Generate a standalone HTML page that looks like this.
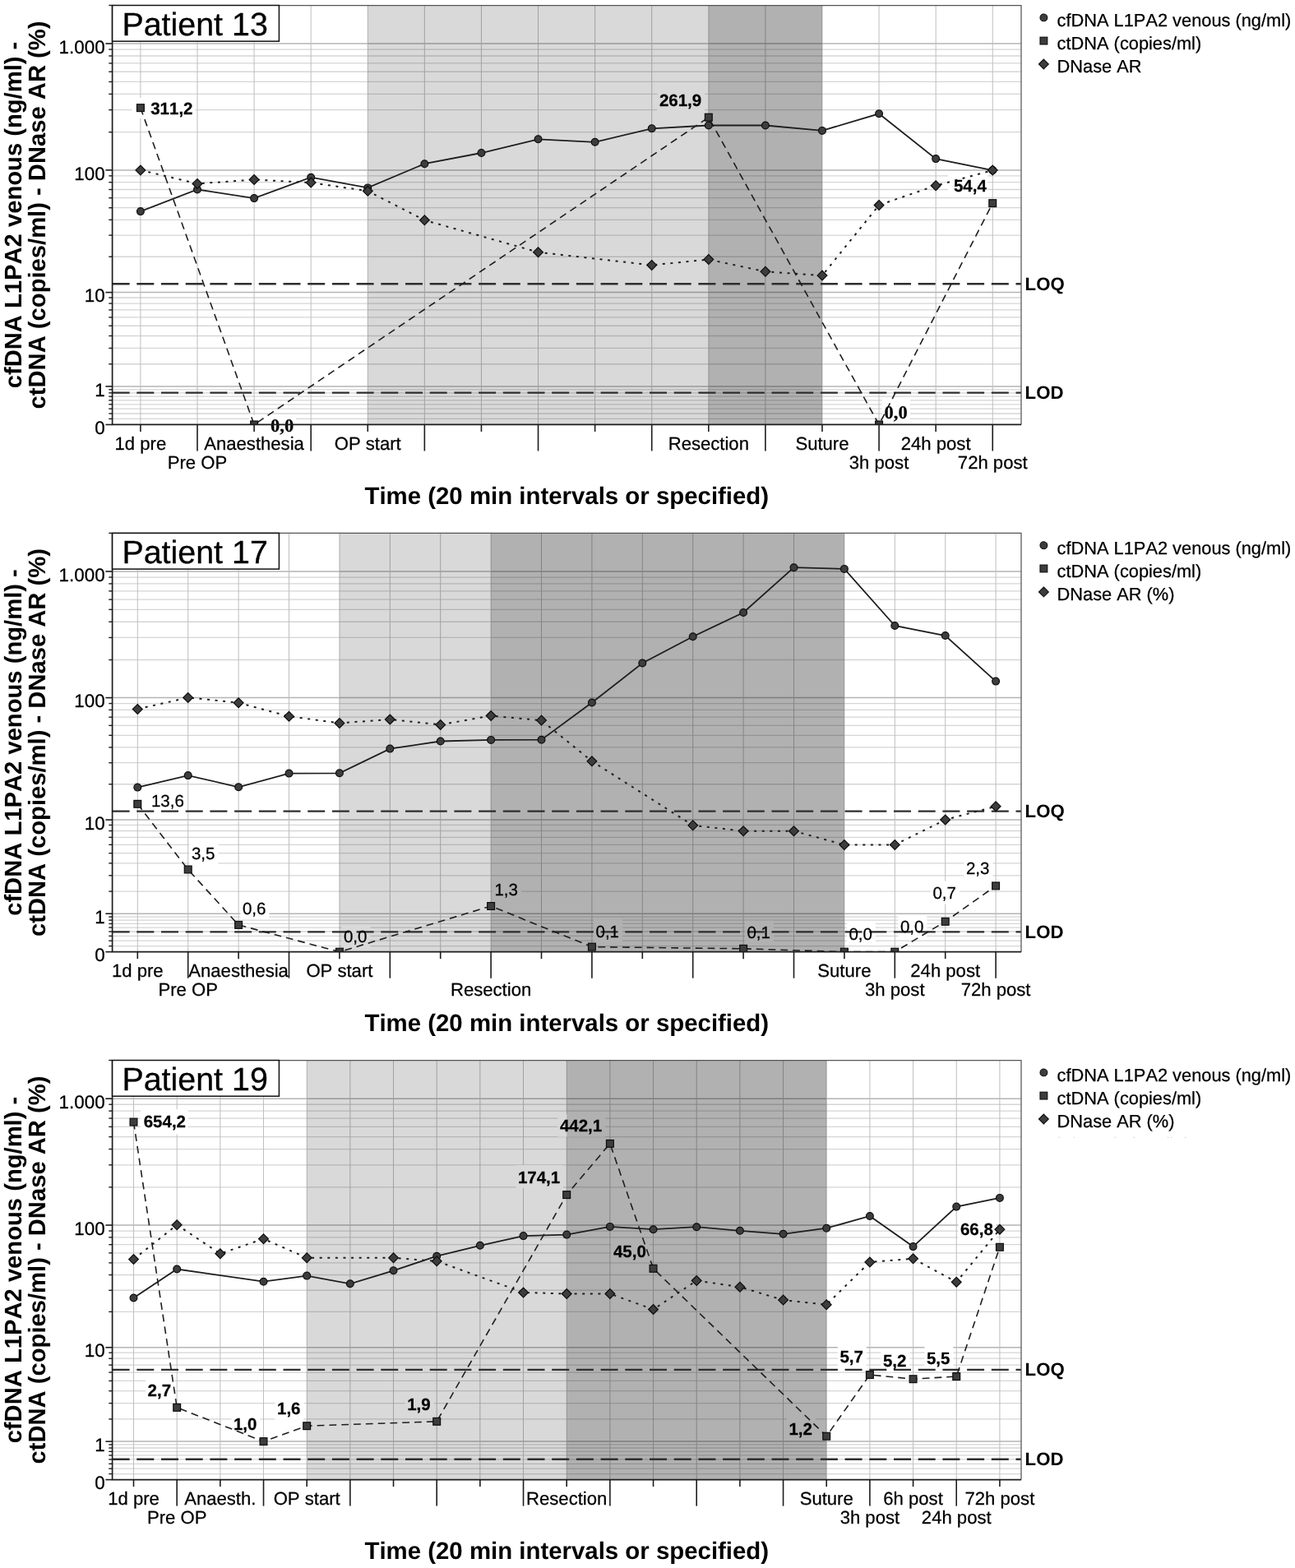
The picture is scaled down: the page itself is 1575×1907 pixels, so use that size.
<!DOCTYPE html>
<html lang="en">
<head>
<meta charset="utf-8">
<title>cfDNA, ctDNA and DNase activity over time - Patients 13, 17, 19</title>
<style>
html,body{margin:0;padding:0;background:#fff;}
body{width:1575px;height:1907px;overflow:hidden;}
svg{display:block;}
text{white-space:pre;font-kerning:none;font-variant-ligatures:none;}
</style>
</head>
<body>
<svg width="1575" height="1907" viewBox="0 0 1575 1907" shape-rendering="geometricPrecision" text-rendering="geometricPrecision">
<rect width="1575" height="1907" fill="#fff"/>
<g>
<line x1="136.6" x2="1242" y1="509.38" y2="509.38" stroke="#d5d5d5" stroke-width="1.3"/>
<line x1="136.6" x2="1242" y1="502.99" y2="502.99" stroke="#d5d5d5" stroke-width="1.3"/>
<line x1="136.6" x2="1242" y1="497.15" y2="497.15" stroke="#d5d5d5" stroke-width="1.3"/>
<line x1="136.6" x2="1242" y1="491.78" y2="491.78" stroke="#d5d5d5" stroke-width="1.3"/>
<line x1="136.6" x2="1242" y1="486.81" y2="486.81" stroke="#d5d5d5" stroke-width="1.3"/>
<line x1="136.6" x2="1242" y1="482.19" y2="482.19" stroke="#d5d5d5" stroke-width="1.3"/>
<line x1="136.6" x2="1242" y1="477.86" y2="477.86" stroke="#d5d5d5" stroke-width="1.3"/>
<line x1="136.6" x2="1242" y1="473.79" y2="473.79" stroke="#d5d5d5" stroke-width="1.3"/>
<line x1="136.6" x2="1242" y1="442.76" y2="442.76" stroke="#d5d5d5" stroke-width="1.3"/>
<line x1="136.6" x2="1242" y1="423.46" y2="423.46" stroke="#d5d5d5" stroke-width="1.3"/>
<line x1="136.6" x2="1242" y1="408.49" y2="408.49" stroke="#d5d5d5" stroke-width="1.3"/>
<line x1="136.6" x2="1242" y1="396.26" y2="396.26" stroke="#d5d5d5" stroke-width="1.3"/>
<line x1="136.6" x2="1242" y1="385.92" y2="385.92" stroke="#d5d5d5" stroke-width="1.3"/>
<line x1="136.6" x2="1242" y1="376.97" y2="376.97" stroke="#d5d5d5" stroke-width="1.3"/>
<line x1="136.6" x2="1242" y1="369.07" y2="369.07" stroke="#d5d5d5" stroke-width="1.3"/>
<line x1="136.6" x2="1242" y1="362" y2="362" stroke="#d5d5d5" stroke-width="1.3"/>
<line x1="136.6" x2="1242" y1="312.23" y2="312.23" stroke="#d5d5d5" stroke-width="1.3"/>
<line x1="136.6" x2="1242" y1="286.11" y2="286.11" stroke="#d5d5d5" stroke-width="1.3"/>
<line x1="136.6" x2="1242" y1="267.36" y2="267.36" stroke="#d5d5d5" stroke-width="1.3"/>
<line x1="136.6" x2="1242" y1="252.72" y2="252.72" stroke="#d5d5d5" stroke-width="1.3"/>
<line x1="136.6" x2="1242" y1="240.71" y2="240.71" stroke="#d5d5d5" stroke-width="1.3"/>
<line x1="136.6" x2="1242" y1="230.52" y2="230.52" stroke="#d5d5d5" stroke-width="1.3"/>
<line x1="136.6" x2="1242" y1="221.68" y2="221.68" stroke="#d5d5d5" stroke-width="1.3"/>
<line x1="136.6" x2="1242" y1="213.88" y2="213.88" stroke="#d5d5d5" stroke-width="1.3"/>
<line x1="136.6" x2="1242" y1="160.72" y2="160.72" stroke="#d5d5d5" stroke-width="1.3"/>
<line x1="136.6" x2="1242" y1="133.64" y2="133.64" stroke="#d5d5d5" stroke-width="1.3"/>
<line x1="136.6" x2="1242" y1="114.39" y2="114.39" stroke="#d5d5d5" stroke-width="1.3"/>
<line x1="136.6" x2="1242" y1="99.46" y2="99.46" stroke="#d5d5d5" stroke-width="1.3"/>
<line x1="136.6" x2="1242" y1="87.25" y2="87.25" stroke="#d5d5d5" stroke-width="1.3"/>
<line x1="136.6" x2="1242" y1="76.93" y2="76.93" stroke="#d5d5d5" stroke-width="1.3"/>
<line x1="136.6" x2="1242" y1="67.98" y2="67.98" stroke="#d5d5d5" stroke-width="1.3"/>
<line x1="136.6" x2="1242" y1="60.09" y2="60.09" stroke="#d5d5d5" stroke-width="1.3"/>
<line x1="136.6" x2="1242" y1="469.96" y2="469.96" stroke="#b4b4b4" stroke-width="1.5"/>
<line x1="136.6" x2="1242" y1="355.61" y2="355.61" stroke="#b4b4b4" stroke-width="1.5"/>
<line x1="136.6" x2="1242" y1="206.88" y2="206.88" stroke="#b4b4b4" stroke-width="1.5"/>
<line x1="136.6" x2="1242" y1="53.03" y2="53.03" stroke="#b4b4b4" stroke-width="1.5"/>
<line x1="170.9" x2="170.9" y1="6.5" y2="516.45" stroke="#bebebe" stroke-width="1"/>
<line x1="239.99" x2="239.99" y1="6.5" y2="516.45" stroke="#bebebe" stroke-width="1"/>
<line x1="309.08" x2="309.08" y1="6.5" y2="516.45" stroke="#bebebe" stroke-width="1"/>
<line x1="378.17" x2="378.17" y1="6.5" y2="516.45" stroke="#bebebe" stroke-width="1"/>
<line x1="447.26" x2="447.26" y1="6.5" y2="516.45" stroke="#bebebe" stroke-width="1"/>
<line x1="516.35" x2="516.35" y1="6.5" y2="516.45" stroke="#bebebe" stroke-width="1"/>
<line x1="585.44" x2="585.44" y1="6.5" y2="516.45" stroke="#bebebe" stroke-width="1"/>
<line x1="654.53" x2="654.53" y1="6.5" y2="516.45" stroke="#bebebe" stroke-width="1"/>
<line x1="723.62" x2="723.62" y1="6.5" y2="516.45" stroke="#bebebe" stroke-width="1"/>
<line x1="792.71" x2="792.71" y1="6.5" y2="516.45" stroke="#bebebe" stroke-width="1"/>
<line x1="861.8" x2="861.8" y1="6.5" y2="516.45" stroke="#bebebe" stroke-width="1"/>
<line x1="930.89" x2="930.89" y1="6.5" y2="516.45" stroke="#bebebe" stroke-width="1"/>
<line x1="999.98" x2="999.98" y1="6.5" y2="516.45" stroke="#bebebe" stroke-width="1"/>
<line x1="1069.07" x2="1069.07" y1="6.5" y2="516.45" stroke="#bebebe" stroke-width="1"/>
<line x1="1138.16" x2="1138.16" y1="6.5" y2="516.45" stroke="#bebebe" stroke-width="1"/>
<line x1="1207.25" x2="1207.25" y1="6.5" y2="516.45" stroke="#bebebe" stroke-width="1"/>
<rect x="160.5" y="119" width="77" height="25" fill="#fff"/>
<rect x="303" y="505" width="57" height="11" fill="#fff"/>
<rect x="799.4" y="107.1" width="57.8" height="28" fill="#fff"/>
<rect x="1072.5" y="485" width="34.5" height="31" fill="#fff"/>
<rect x="1153" y="210" width="48" height="30" fill="#fff"/>
<rect x="447.26" y="6.5" width="414.54" height="509.95" fill="#000" opacity="0.149"/>
<rect x="861.8" y="6.5" width="138.18" height="509.95" fill="#000" opacity="0.306"/>
<line x1="136.6" x2="1242" y1="345.2" y2="345.2" stroke="#2e2e2e" stroke-width="2.4" stroke-dasharray="21 8.7"/>
<text x="1246.6" y="352.5" font-family='"Liberation Sans", sans-serif' font-size="22.2" font-weight="bold" fill="#000">LOQ</text>
<line x1="136.6" x2="1242" y1="477.6" y2="477.6" stroke="#2e2e2e" stroke-width="2.4" stroke-dasharray="21 8.7"/>
<text x="1246.6" y="484.9" font-family='"Liberation Sans", sans-serif' font-size="22.2" font-weight="bold" fill="#000">LOD</text>
<clipPath id="clip6"><rect x="136.6" y="6.5" width="1105.4" height="509.95"/></clipPath>
<g clip-path="url(#clip6)">
<polyline points="170.9,131.18 309.08,516.45 861.8,142.71 1069.07,516.45 1207.25,247.16" fill="none" stroke="#1e1e1e" stroke-width="1.6" stroke-dasharray="8.8 6"/>
<polyline points="170.9,206.9 239.99,223.4 309.08,218.5 378.17,222.1 447.26,232.3 516.35,267.8 654.53,306.7 792.71,322.4 861.8,315.6 930.89,330.3 999.98,335.1 1069.07,249.5 1138.16,225.7 1207.25,207.1" fill="none" stroke="#1e1e1e" stroke-width="2" stroke-dasharray="3 6.6"/>
<polyline points="170.9,257.1 239.99,230.5 309.08,241.1 378.17,215.7 447.26,228.4 516.35,199.2 585.44,186 654.53,169.3 723.62,172.8 792.71,156.3 861.8,152.5 930.89,152.5 999.98,158.9 1069.07,138.3 1138.16,193.1 1207.25,207.1" fill="none" stroke="#1e1e1e" stroke-width="1.8"/>
<rect x="166.5" y="126.78" width="8.8" height="8.8" fill="#3d3d3d" stroke="#0c0c0c" stroke-width="1.2"/>
<rect x="304.68" y="512.05" width="8.8" height="8.8" fill="#3d3d3d" stroke="#0c0c0c" stroke-width="1.2"/>
<rect x="857.4" y="138.31" width="8.8" height="8.8" fill="#3d3d3d" stroke="#0c0c0c" stroke-width="1.2"/>
<rect x="1064.67" y="512.05" width="8.8" height="8.8" fill="#3d3d3d" stroke="#0c0c0c" stroke-width="1.2"/>
<rect x="1202.85" y="242.76" width="8.8" height="8.8" fill="#3d3d3d" stroke="#0c0c0c" stroke-width="1.2"/>
<circle cx="170.9" cy="257.1" r="4.4" fill="#3d3d3d" stroke="#0c0c0c" stroke-width="1.2"/>
<circle cx="239.99" cy="230.5" r="4.4" fill="#3d3d3d" stroke="#0c0c0c" stroke-width="1.2"/>
<circle cx="309.08" cy="241.1" r="4.4" fill="#3d3d3d" stroke="#0c0c0c" stroke-width="1.2"/>
<circle cx="378.17" cy="215.7" r="4.4" fill="#3d3d3d" stroke="#0c0c0c" stroke-width="1.2"/>
<circle cx="447.26" cy="228.4" r="4.4" fill="#3d3d3d" stroke="#0c0c0c" stroke-width="1.2"/>
<circle cx="516.35" cy="199.2" r="4.4" fill="#3d3d3d" stroke="#0c0c0c" stroke-width="1.2"/>
<circle cx="585.44" cy="186" r="4.4" fill="#3d3d3d" stroke="#0c0c0c" stroke-width="1.2"/>
<circle cx="654.53" cy="169.3" r="4.4" fill="#3d3d3d" stroke="#0c0c0c" stroke-width="1.2"/>
<circle cx="723.62" cy="172.8" r="4.4" fill="#3d3d3d" stroke="#0c0c0c" stroke-width="1.2"/>
<circle cx="792.71" cy="156.3" r="4.4" fill="#3d3d3d" stroke="#0c0c0c" stroke-width="1.2"/>
<circle cx="861.8" cy="152.5" r="4.4" fill="#3d3d3d" stroke="#0c0c0c" stroke-width="1.2"/>
<circle cx="930.89" cy="152.5" r="4.4" fill="#3d3d3d" stroke="#0c0c0c" stroke-width="1.2"/>
<circle cx="999.98" cy="158.9" r="4.4" fill="#3d3d3d" stroke="#0c0c0c" stroke-width="1.2"/>
<circle cx="1069.07" cy="138.3" r="4.4" fill="#3d3d3d" stroke="#0c0c0c" stroke-width="1.2"/>
<circle cx="1138.16" cy="193.1" r="4.4" fill="#3d3d3d" stroke="#0c0c0c" stroke-width="1.2"/>
<circle cx="1207.25" cy="207.1" r="4.4" fill="#3d3d3d" stroke="#0c0c0c" stroke-width="1.2"/>
<path d="M165 206.9L170.9 201L176.8 206.9L170.9 212.8Z" fill="#3d3d3d" stroke="#0c0c0c" stroke-width="1.2" stroke-linejoin="miter"/>
<path d="M234.09 223.4L239.99 217.5L245.89 223.4L239.99 229.3Z" fill="#3d3d3d" stroke="#0c0c0c" stroke-width="1.2" stroke-linejoin="miter"/>
<path d="M303.18 218.5L309.08 212.6L314.98 218.5L309.08 224.4Z" fill="#3d3d3d" stroke="#0c0c0c" stroke-width="1.2" stroke-linejoin="miter"/>
<path d="M372.27 222.1L378.17 216.2L384.07 222.1L378.17 228Z" fill="#3d3d3d" stroke="#0c0c0c" stroke-width="1.2" stroke-linejoin="miter"/>
<path d="M441.36 232.3L447.26 226.4L453.16 232.3L447.26 238.2Z" fill="#3d3d3d" stroke="#0c0c0c" stroke-width="1.2" stroke-linejoin="miter"/>
<path d="M510.45 267.8L516.35 261.9L522.25 267.8L516.35 273.7Z" fill="#3d3d3d" stroke="#0c0c0c" stroke-width="1.2" stroke-linejoin="miter"/>
<path d="M648.63 306.7L654.53 300.8L660.43 306.7L654.53 312.6Z" fill="#3d3d3d" stroke="#0c0c0c" stroke-width="1.2" stroke-linejoin="miter"/>
<path d="M786.81 322.4L792.71 316.5L798.61 322.4L792.71 328.3Z" fill="#3d3d3d" stroke="#0c0c0c" stroke-width="1.2" stroke-linejoin="miter"/>
<path d="M855.9 315.6L861.8 309.7L867.7 315.6L861.8 321.5Z" fill="#3d3d3d" stroke="#0c0c0c" stroke-width="1.2" stroke-linejoin="miter"/>
<path d="M924.99 330.3L930.89 324.4L936.79 330.3L930.89 336.2Z" fill="#3d3d3d" stroke="#0c0c0c" stroke-width="1.2" stroke-linejoin="miter"/>
<path d="M994.08 335.1L999.98 329.2L1005.88 335.1L999.98 341Z" fill="#3d3d3d" stroke="#0c0c0c" stroke-width="1.2" stroke-linejoin="miter"/>
<path d="M1063.17 249.5L1069.07 243.6L1074.97 249.5L1069.07 255.4Z" fill="#3d3d3d" stroke="#0c0c0c" stroke-width="1.2" stroke-linejoin="miter"/>
<path d="M1132.26 225.7L1138.16 219.8L1144.06 225.7L1138.16 231.6Z" fill="#3d3d3d" stroke="#0c0c0c" stroke-width="1.2" stroke-linejoin="miter"/>
<path d="M1201.35 207.1L1207.25 201.2L1213.15 207.1L1207.25 213Z" fill="#3d3d3d" stroke="#0c0c0c" stroke-width="1.2" stroke-linejoin="miter"/>
</g>
<text x="183.2" y="138.9" font-family='"Liberation Sans", sans-serif' font-size="20.5" font-weight="bold" fill="#000" stroke="#000" stroke-width="0.25">311,2</text>
<text x="329" y="524.5" font-family='"Liberation Serif", serif' font-size="22.5" font-weight="bold" fill="#000" stroke="#000" stroke-width="0.25">0,0</text>
<text x="801.9" y="128.6" font-family='"Liberation Sans", sans-serif' font-size="20.5" font-weight="bold" fill="#000" stroke="#000" stroke-width="0.25">261,9</text>
<text x="1075.5" y="508.5" font-family='"Liberation Serif", serif' font-size="22.5" font-weight="bold" fill="#000" stroke="#000" stroke-width="0.25">0,0</text>
<text x="1159.9" y="233.1" font-family='"Liberation Sans", sans-serif' font-size="20.5" font-weight="bold" fill="#000" stroke="#000" stroke-width="0.25">54,4</text>
<path d="M136.6 6.5H1242V516.45" fill="none" stroke="#555" stroke-width="1.25"/>
<path d="M136.6 6.5V516.45H1242" fill="none" stroke="#1c1c1c" stroke-width="1.7"/>
<line x1="132.3" x2="136.6" y1="509.38" y2="509.38" stroke="#1c1c1c" stroke-width="1.4"/>
<line x1="132.3" x2="136.6" y1="502.99" y2="502.99" stroke="#1c1c1c" stroke-width="1.4"/>
<line x1="132.3" x2="136.6" y1="497.15" y2="497.15" stroke="#1c1c1c" stroke-width="1.4"/>
<line x1="132.3" x2="136.6" y1="491.78" y2="491.78" stroke="#1c1c1c" stroke-width="1.4"/>
<line x1="132.3" x2="136.6" y1="486.81" y2="486.81" stroke="#1c1c1c" stroke-width="1.4"/>
<line x1="132.3" x2="136.6" y1="482.19" y2="482.19" stroke="#1c1c1c" stroke-width="1.4"/>
<line x1="132.3" x2="136.6" y1="477.86" y2="477.86" stroke="#1c1c1c" stroke-width="1.4"/>
<line x1="132.3" x2="136.6" y1="473.79" y2="473.79" stroke="#1c1c1c" stroke-width="1.4"/>
<line x1="132.3" x2="136.6" y1="442.76" y2="442.76" stroke="#1c1c1c" stroke-width="1.4"/>
<line x1="132.3" x2="136.6" y1="423.46" y2="423.46" stroke="#1c1c1c" stroke-width="1.4"/>
<line x1="132.3" x2="136.6" y1="408.49" y2="408.49" stroke="#1c1c1c" stroke-width="1.4"/>
<line x1="132.3" x2="136.6" y1="396.26" y2="396.26" stroke="#1c1c1c" stroke-width="1.4"/>
<line x1="132.3" x2="136.6" y1="385.92" y2="385.92" stroke="#1c1c1c" stroke-width="1.4"/>
<line x1="132.3" x2="136.6" y1="376.97" y2="376.97" stroke="#1c1c1c" stroke-width="1.4"/>
<line x1="132.3" x2="136.6" y1="369.07" y2="369.07" stroke="#1c1c1c" stroke-width="1.4"/>
<line x1="132.3" x2="136.6" y1="362" y2="362" stroke="#1c1c1c" stroke-width="1.4"/>
<line x1="132.3" x2="136.6" y1="312.23" y2="312.23" stroke="#1c1c1c" stroke-width="1.4"/>
<line x1="132.3" x2="136.6" y1="286.11" y2="286.11" stroke="#1c1c1c" stroke-width="1.4"/>
<line x1="132.3" x2="136.6" y1="267.36" y2="267.36" stroke="#1c1c1c" stroke-width="1.4"/>
<line x1="132.3" x2="136.6" y1="252.72" y2="252.72" stroke="#1c1c1c" stroke-width="1.4"/>
<line x1="132.3" x2="136.6" y1="240.71" y2="240.71" stroke="#1c1c1c" stroke-width="1.4"/>
<line x1="132.3" x2="136.6" y1="230.52" y2="230.52" stroke="#1c1c1c" stroke-width="1.4"/>
<line x1="132.3" x2="136.6" y1="221.68" y2="221.68" stroke="#1c1c1c" stroke-width="1.4"/>
<line x1="132.3" x2="136.6" y1="213.88" y2="213.88" stroke="#1c1c1c" stroke-width="1.4"/>
<line x1="132.3" x2="136.6" y1="160.72" y2="160.72" stroke="#1c1c1c" stroke-width="1.4"/>
<line x1="132.3" x2="136.6" y1="133.64" y2="133.64" stroke="#1c1c1c" stroke-width="1.4"/>
<line x1="132.3" x2="136.6" y1="114.39" y2="114.39" stroke="#1c1c1c" stroke-width="1.4"/>
<line x1="132.3" x2="136.6" y1="99.46" y2="99.46" stroke="#1c1c1c" stroke-width="1.4"/>
<line x1="132.3" x2="136.6" y1="87.25" y2="87.25" stroke="#1c1c1c" stroke-width="1.4"/>
<line x1="132.3" x2="136.6" y1="76.93" y2="76.93" stroke="#1c1c1c" stroke-width="1.4"/>
<line x1="132.3" x2="136.6" y1="67.98" y2="67.98" stroke="#1c1c1c" stroke-width="1.4"/>
<line x1="132.3" x2="136.6" y1="60.09" y2="60.09" stroke="#1c1c1c" stroke-width="1.4"/>
<line x1="132.3" x2="136.6" y1="6.5" y2="6.5" stroke="#1c1c1c" stroke-width="1.4"/>
<line x1="128.4" x2="136.6" y1="516.45" y2="516.45" stroke="#1c1c1c" stroke-width="1.6"/>
<text x="127.6" y="528.15" text-anchor="end" font-family='"Liberation Sans", sans-serif' font-size="22.4" fill="#000" stroke="#000" stroke-width="0.25">0</text>
<line x1="128.4" x2="136.6" y1="469.96" y2="469.96" stroke="#1c1c1c" stroke-width="1.6"/>
<text x="127.6" y="481.66" text-anchor="end" font-family='"Liberation Sans", sans-serif' font-size="22.4" fill="#000" stroke="#000" stroke-width="0.25">1</text>
<line x1="128.4" x2="136.6" y1="355.61" y2="355.61" stroke="#1c1c1c" stroke-width="1.6"/>
<text x="127.6" y="367.31" text-anchor="end" font-family='"Liberation Sans", sans-serif' font-size="22.4" fill="#000" stroke="#000" stroke-width="0.25">10</text>
<line x1="128.4" x2="136.6" y1="206.88" y2="206.88" stroke="#1c1c1c" stroke-width="1.6"/>
<text x="127.6" y="218.58" text-anchor="end" font-family='"Liberation Sans", sans-serif' font-size="22.4" fill="#000" stroke="#000" stroke-width="0.25">100</text>
<line x1="128.4" x2="136.6" y1="53.03" y2="53.03" stroke="#1c1c1c" stroke-width="1.6"/>
<text x="127.6" y="64.73" text-anchor="end" font-family='"Liberation Sans", sans-serif' font-size="22.4" fill="#000" stroke="#000" stroke-width="0.25">1.000</text>
<line x1="170.9" x2="170.9" y1="516.45" y2="524.95" stroke="#1c1c1c" stroke-width="1.6"/>
<line x1="239.99" x2="239.99" y1="516.45" y2="548.45" stroke="#1c1c1c" stroke-width="1.6"/>
<line x1="309.08" x2="309.08" y1="516.45" y2="524.95" stroke="#1c1c1c" stroke-width="1.6"/>
<line x1="378.17" x2="378.17" y1="516.45" y2="548.45" stroke="#1c1c1c" stroke-width="1.6"/>
<line x1="447.26" x2="447.26" y1="516.45" y2="524.95" stroke="#1c1c1c" stroke-width="1.6"/>
<line x1="516.35" x2="516.35" y1="516.45" y2="548.45" stroke="#1c1c1c" stroke-width="1.6"/>
<line x1="585.44" x2="585.44" y1="516.45" y2="524.95" stroke="#1c1c1c" stroke-width="1.6"/>
<line x1="654.53" x2="654.53" y1="516.45" y2="548.45" stroke="#1c1c1c" stroke-width="1.6"/>
<line x1="723.62" x2="723.62" y1="516.45" y2="524.95" stroke="#1c1c1c" stroke-width="1.6"/>
<line x1="792.71" x2="792.71" y1="516.45" y2="548.45" stroke="#1c1c1c" stroke-width="1.6"/>
<line x1="861.8" x2="861.8" y1="516.45" y2="524.95" stroke="#1c1c1c" stroke-width="1.6"/>
<line x1="930.89" x2="930.89" y1="516.45" y2="548.45" stroke="#1c1c1c" stroke-width="1.6"/>
<line x1="999.98" x2="999.98" y1="516.45" y2="524.95" stroke="#1c1c1c" stroke-width="1.6"/>
<line x1="1069.07" x2="1069.07" y1="516.45" y2="548.45" stroke="#1c1c1c" stroke-width="1.6"/>
<line x1="1138.16" x2="1138.16" y1="516.45" y2="524.95" stroke="#1c1c1c" stroke-width="1.6"/>
<line x1="1207.25" x2="1207.25" y1="516.45" y2="548.45" stroke="#1c1c1c" stroke-width="1.6"/>
<text x="170.9" y="546.65" text-anchor="middle" font-family='"Liberation Sans", sans-serif' font-size="22.1" fill="#000" stroke="#000" stroke-width="0.25">1d pre</text>
<text x="239.99" y="570.05" text-anchor="middle" font-family='"Liberation Sans", sans-serif' font-size="22.1" fill="#000" stroke="#000" stroke-width="0.25">Pre OP</text>
<text x="309.08" y="546.65" text-anchor="middle" font-family='"Liberation Sans", sans-serif' font-size="22.1" fill="#000" stroke="#000" stroke-width="0.25">Anaesthesia</text>
<text x="447.26" y="546.65" text-anchor="middle" font-family='"Liberation Sans", sans-serif' font-size="22.1" fill="#000" stroke="#000" stroke-width="0.25">OP start</text>
<text x="861.8" y="546.65" text-anchor="middle" font-family='"Liberation Sans", sans-serif' font-size="22.1" fill="#000" stroke="#000" stroke-width="0.25">Resection</text>
<text x="999.98" y="546.65" text-anchor="middle" font-family='"Liberation Sans", sans-serif' font-size="22.1" fill="#000" stroke="#000" stroke-width="0.25">Suture</text>
<text x="1069.07" y="570.05" text-anchor="middle" font-family='"Liberation Sans", sans-serif' font-size="22.1" fill="#000" stroke="#000" stroke-width="0.25">3h post</text>
<text x="1138.16" y="546.65" text-anchor="middle" font-family='"Liberation Sans", sans-serif' font-size="22.1" fill="#000" stroke="#000" stroke-width="0.25">24h post</text>
<text x="1207.25" y="570.05" text-anchor="middle" font-family='"Liberation Sans", sans-serif' font-size="22.1" fill="#000" stroke="#000" stroke-width="0.25">72h post</text>
<rect x="136.6" y="6.5" width="202.8" height="43.7" fill="#fff" stroke="#111" stroke-width="1.5"/>
<text x="148.4" y="43.1" font-family='"Liberation Sans", sans-serif' font-size="39.4" fill="#000" stroke="#000" stroke-width="0.3">Patient 13</text>
<text x="689.3" y="612.75" text-anchor="middle" font-family='"Liberation Sans", sans-serif' font-size="29.4" font-weight="bold" fill="#000">Time (20 min intervals or specified)</text>
<text transform="translate(26 261.48) rotate(-90)" text-anchor="middle" font-family='"Liberation Sans", sans-serif' font-size="29.2" font-weight="bold" fill="#000">cfDNA L1PA2 venous (ng/ml) -</text>
<text transform="translate(55.4 261.48) rotate(-90)" text-anchor="middle" font-family='"Liberation Sans", sans-serif' font-size="29.2" font-weight="bold" fill="#000">ctDNA (copies/ml) - DNase AR (%)</text>
<circle cx="1269.4" cy="21.4" r="4.4" fill="#3d3d3d" stroke="#0c0c0c" stroke-width="1.1"/>
<rect x="1265" y="45.2" width="8.8" height="8.8" fill="#3d3d3d" stroke="#0c0c0c" stroke-width="1.1"/>
<path d="M1263.5 78L1269.4 72.1L1275.3 78L1269.4 83.9Z" fill="#3d3d3d" stroke="#0c0c0c" stroke-width="1.1"/>
<text x="1285.6" y="32.4" font-family='"Liberation Sans", sans-serif' font-size="21.8" fill="#000" stroke="#000" stroke-width="0.25">cfDNA L1PA2 venous (ng/ml)</text>
<text x="1285.6" y="60.4" font-family='"Liberation Sans", sans-serif' font-size="21.8" fill="#000" stroke="#000" stroke-width="0.25">ctDNA (copies/ml)</text>
<text x="1285.6" y="88.4" font-family='"Liberation Sans", sans-serif' font-size="21.8" fill="#000" stroke="#000" stroke-width="0.25">DNase AR</text>

</g>
<g>
<line x1="136.6" x2="1242" y1="1150.59" y2="1150.59" stroke="#d5d5d5" stroke-width="1.3"/>
<line x1="136.6" x2="1242" y1="1144.21" y2="1144.21" stroke="#d5d5d5" stroke-width="1.3"/>
<line x1="136.6" x2="1242" y1="1138.38" y2="1138.38" stroke="#d5d5d5" stroke-width="1.3"/>
<line x1="136.6" x2="1242" y1="1133.02" y2="1133.02" stroke="#d5d5d5" stroke-width="1.3"/>
<line x1="136.6" x2="1242" y1="1128.06" y2="1128.06" stroke="#d5d5d5" stroke-width="1.3"/>
<line x1="136.6" x2="1242" y1="1123.44" y2="1123.44" stroke="#d5d5d5" stroke-width="1.3"/>
<line x1="136.6" x2="1242" y1="1119.12" y2="1119.12" stroke="#d5d5d5" stroke-width="1.3"/>
<line x1="136.6" x2="1242" y1="1115.06" y2="1115.06" stroke="#d5d5d5" stroke-width="1.3"/>
<line x1="136.6" x2="1242" y1="1084.08" y2="1084.08" stroke="#d5d5d5" stroke-width="1.3"/>
<line x1="136.6" x2="1242" y1="1064.81" y2="1064.81" stroke="#d5d5d5" stroke-width="1.3"/>
<line x1="136.6" x2="1242" y1="1049.87" y2="1049.87" stroke="#d5d5d5" stroke-width="1.3"/>
<line x1="136.6" x2="1242" y1="1037.66" y2="1037.66" stroke="#d5d5d5" stroke-width="1.3"/>
<line x1="136.6" x2="1242" y1="1027.34" y2="1027.34" stroke="#d5d5d5" stroke-width="1.3"/>
<line x1="136.6" x2="1242" y1="1018.39" y2="1018.39" stroke="#d5d5d5" stroke-width="1.3"/>
<line x1="136.6" x2="1242" y1="1010.51" y2="1010.51" stroke="#d5d5d5" stroke-width="1.3"/>
<line x1="136.6" x2="1242" y1="1003.45" y2="1003.45" stroke="#d5d5d5" stroke-width="1.3"/>
<line x1="136.6" x2="1242" y1="953.76" y2="953.76" stroke="#d5d5d5" stroke-width="1.3"/>
<line x1="136.6" x2="1242" y1="927.68" y2="927.68" stroke="#d5d5d5" stroke-width="1.3"/>
<line x1="136.6" x2="1242" y1="908.96" y2="908.96" stroke="#d5d5d5" stroke-width="1.3"/>
<line x1="136.6" x2="1242" y1="894.34" y2="894.34" stroke="#d5d5d5" stroke-width="1.3"/>
<line x1="136.6" x2="1242" y1="882.35" y2="882.35" stroke="#d5d5d5" stroke-width="1.3"/>
<line x1="136.6" x2="1242" y1="872.19" y2="872.19" stroke="#d5d5d5" stroke-width="1.3"/>
<line x1="136.6" x2="1242" y1="863.36" y2="863.36" stroke="#d5d5d5" stroke-width="1.3"/>
<line x1="136.6" x2="1242" y1="855.57" y2="855.57" stroke="#d5d5d5" stroke-width="1.3"/>
<line x1="136.6" x2="1242" y1="802.5" y2="802.5" stroke="#d5d5d5" stroke-width="1.3"/>
<line x1="136.6" x2="1242" y1="775.46" y2="775.46" stroke="#d5d5d5" stroke-width="1.3"/>
<line x1="136.6" x2="1242" y1="756.25" y2="756.25" stroke="#d5d5d5" stroke-width="1.3"/>
<line x1="136.6" x2="1242" y1="741.34" y2="741.34" stroke="#d5d5d5" stroke-width="1.3"/>
<line x1="136.6" x2="1242" y1="729.15" y2="729.15" stroke="#d5d5d5" stroke-width="1.3"/>
<line x1="136.6" x2="1242" y1="718.84" y2="718.84" stroke="#d5d5d5" stroke-width="1.3"/>
<line x1="136.6" x2="1242" y1="709.91" y2="709.91" stroke="#d5d5d5" stroke-width="1.3"/>
<line x1="136.6" x2="1242" y1="702.03" y2="702.03" stroke="#d5d5d5" stroke-width="1.3"/>
<line x1="136.6" x2="1242" y1="1111.23" y2="1111.23" stroke="#b4b4b4" stroke-width="1.5"/>
<line x1="136.6" x2="1242" y1="997.07" y2="997.07" stroke="#b4b4b4" stroke-width="1.5"/>
<line x1="136.6" x2="1242" y1="848.58" y2="848.58" stroke="#b4b4b4" stroke-width="1.5"/>
<line x1="136.6" x2="1242" y1="694.98" y2="694.98" stroke="#b4b4b4" stroke-width="1.5"/>
<line x1="167.3" x2="167.3" y1="648.4" y2="1157.65" stroke="#bebebe" stroke-width="1"/>
<line x1="228.7" x2="228.7" y1="648.4" y2="1157.65" stroke="#bebebe" stroke-width="1"/>
<line x1="290.1" x2="290.1" y1="648.4" y2="1157.65" stroke="#bebebe" stroke-width="1"/>
<line x1="351.5" x2="351.5" y1="648.4" y2="1157.65" stroke="#bebebe" stroke-width="1"/>
<line x1="412.9" x2="412.9" y1="648.4" y2="1157.65" stroke="#bebebe" stroke-width="1"/>
<line x1="474.3" x2="474.3" y1="648.4" y2="1157.65" stroke="#bebebe" stroke-width="1"/>
<line x1="535.7" x2="535.7" y1="648.4" y2="1157.65" stroke="#bebebe" stroke-width="1"/>
<line x1="597.1" x2="597.1" y1="648.4" y2="1157.65" stroke="#bebebe" stroke-width="1"/>
<line x1="658.5" x2="658.5" y1="648.4" y2="1157.65" stroke="#bebebe" stroke-width="1"/>
<line x1="719.9" x2="719.9" y1="648.4" y2="1157.65" stroke="#bebebe" stroke-width="1"/>
<line x1="781.3" x2="781.3" y1="648.4" y2="1157.65" stroke="#bebebe" stroke-width="1"/>
<line x1="842.7" x2="842.7" y1="648.4" y2="1157.65" stroke="#bebebe" stroke-width="1"/>
<line x1="904.1" x2="904.1" y1="648.4" y2="1157.65" stroke="#bebebe" stroke-width="1"/>
<line x1="965.5" x2="965.5" y1="648.4" y2="1157.65" stroke="#bebebe" stroke-width="1"/>
<line x1="1026.9" x2="1026.9" y1="648.4" y2="1157.65" stroke="#bebebe" stroke-width="1"/>
<line x1="1088.3" x2="1088.3" y1="648.4" y2="1157.65" stroke="#bebebe" stroke-width="1"/>
<line x1="1149.7" x2="1149.7" y1="648.4" y2="1157.65" stroke="#bebebe" stroke-width="1"/>
<line x1="1211.1" x2="1211.1" y1="648.4" y2="1157.65" stroke="#bebebe" stroke-width="1"/>
<rect x="181.4" y="959.6" width="46.4" height="28" fill="#fff"/>
<rect x="230.4" y="1023.1" width="35" height="28" fill="#fff"/>
<rect x="292.4" y="1090.1" width="35" height="28" fill="#fff"/>
<rect x="415.4" y="1124.1" width="35" height="28" fill="#fff"/>
<rect x="598.9" y="1067.6" width="35" height="28" fill="#fff"/>
<rect x="722" y="1118.3" width="35" height="28" fill="#fff"/>
<rect x="905.9" y="1119.6" width="35" height="28" fill="#fff"/>
<rect x="1029.9" y="1121.1" width="35" height="28" fill="#fff"/>
<rect x="1092.4" y="1112.2" width="35" height="28" fill="#fff"/>
<rect x="1131.9" y="1071.6" width="35" height="28" fill="#fff"/>
<rect x="1172.4" y="1041.1" width="35" height="28" fill="#fff"/>
<rect x="412.9" y="648.4" width="184.2" height="509.25" fill="#000" opacity="0.149"/>
<rect x="597.1" y="648.4" width="429.8" height="509.25" fill="#000" opacity="0.306"/>
<line x1="136.6" x2="1242" y1="986.6" y2="986.6" stroke="#2e2e2e" stroke-width="2.4" stroke-dasharray="21 8.7"/>
<text x="1246.6" y="993.9" font-family='"Liberation Sans", sans-serif' font-size="22.2" font-weight="bold" fill="#000">LOQ</text>
<line x1="136.6" x2="1242" y1="1133.4" y2="1133.4" stroke="#2e2e2e" stroke-width="2.4" stroke-dasharray="21 8.7"/>
<text x="1246.6" y="1140.7" font-family='"Liberation Sans", sans-serif' font-size="22.2" font-weight="bold" fill="#000">LOD</text>
<clipPath id="clip648"><rect x="136.6" y="648.4" width="1105.4" height="509.25"/></clipPath>
<g clip-path="url(#clip648)">
<polyline points="167.3,977.8 228.7,1057.5 290.1,1124.9 412.9,1157.65 597.1,1102 719.9,1151.6 904.1,1153.8 1026.9,1157.65 1088.3,1157.65 1149.7,1120.8 1211.1,1077.4" fill="none" stroke="#1e1e1e" stroke-width="1.6" stroke-dasharray="8.8 6"/>
<polyline points="167.3,862.4 228.7,848.4 290.1,854.7 351.5,871.2 412.9,879.4 474.3,875 535.7,881.4 597.1,870.5 658.5,876.1 719.9,925.8 842.7,1003.8 904.1,1010.7 965.5,1010.7 1026.9,1027.4 1088.3,1027.4 1149.7,997 1211.1,980.7" fill="none" stroke="#1e1e1e" stroke-width="2" stroke-dasharray="3 6.6"/>
<polyline points="167.3,957.6 228.7,943.1 290.1,957.3 351.5,940.6 412.9,940.3 474.3,910.6 535.7,901.5 597.1,899.9 658.5,899.7 719.9,854.5 781.3,806.5 842.7,774.2 904.1,745 965.5,690.2 1026.9,691.9 1088.3,761 1149.7,773 1211.1,828.6" fill="none" stroke="#1e1e1e" stroke-width="1.8"/>
<rect x="162.9" y="973.4" width="8.8" height="8.8" fill="#3d3d3d" stroke="#0c0c0c" stroke-width="1.2"/>
<rect x="224.3" y="1053.1" width="8.8" height="8.8" fill="#3d3d3d" stroke="#0c0c0c" stroke-width="1.2"/>
<rect x="285.7" y="1120.5" width="8.8" height="8.8" fill="#3d3d3d" stroke="#0c0c0c" stroke-width="1.2"/>
<rect x="408.5" y="1153.25" width="8.8" height="8.8" fill="#3d3d3d" stroke="#0c0c0c" stroke-width="1.2"/>
<rect x="592.7" y="1097.6" width="8.8" height="8.8" fill="#3d3d3d" stroke="#0c0c0c" stroke-width="1.2"/>
<rect x="715.5" y="1147.2" width="8.8" height="8.8" fill="#3d3d3d" stroke="#0c0c0c" stroke-width="1.2"/>
<rect x="899.7" y="1149.4" width="8.8" height="8.8" fill="#3d3d3d" stroke="#0c0c0c" stroke-width="1.2"/>
<rect x="1022.5" y="1153.25" width="8.8" height="8.8" fill="#3d3d3d" stroke="#0c0c0c" stroke-width="1.2"/>
<rect x="1083.9" y="1153.25" width="8.8" height="8.8" fill="#3d3d3d" stroke="#0c0c0c" stroke-width="1.2"/>
<rect x="1145.3" y="1116.4" width="8.8" height="8.8" fill="#3d3d3d" stroke="#0c0c0c" stroke-width="1.2"/>
<rect x="1206.7" y="1073" width="8.8" height="8.8" fill="#3d3d3d" stroke="#0c0c0c" stroke-width="1.2"/>
<circle cx="167.3" cy="957.6" r="4.4" fill="#3d3d3d" stroke="#0c0c0c" stroke-width="1.2"/>
<circle cx="228.7" cy="943.1" r="4.4" fill="#3d3d3d" stroke="#0c0c0c" stroke-width="1.2"/>
<circle cx="290.1" cy="957.3" r="4.4" fill="#3d3d3d" stroke="#0c0c0c" stroke-width="1.2"/>
<circle cx="351.5" cy="940.6" r="4.4" fill="#3d3d3d" stroke="#0c0c0c" stroke-width="1.2"/>
<circle cx="412.9" cy="940.3" r="4.4" fill="#3d3d3d" stroke="#0c0c0c" stroke-width="1.2"/>
<circle cx="474.3" cy="910.6" r="4.4" fill="#3d3d3d" stroke="#0c0c0c" stroke-width="1.2"/>
<circle cx="535.7" cy="901.5" r="4.4" fill="#3d3d3d" stroke="#0c0c0c" stroke-width="1.2"/>
<circle cx="597.1" cy="899.9" r="4.4" fill="#3d3d3d" stroke="#0c0c0c" stroke-width="1.2"/>
<circle cx="658.5" cy="899.7" r="4.4" fill="#3d3d3d" stroke="#0c0c0c" stroke-width="1.2"/>
<circle cx="719.9" cy="854.5" r="4.4" fill="#3d3d3d" stroke="#0c0c0c" stroke-width="1.2"/>
<circle cx="781.3" cy="806.5" r="4.4" fill="#3d3d3d" stroke="#0c0c0c" stroke-width="1.2"/>
<circle cx="842.7" cy="774.2" r="4.4" fill="#3d3d3d" stroke="#0c0c0c" stroke-width="1.2"/>
<circle cx="904.1" cy="745" r="4.4" fill="#3d3d3d" stroke="#0c0c0c" stroke-width="1.2"/>
<circle cx="965.5" cy="690.2" r="4.4" fill="#3d3d3d" stroke="#0c0c0c" stroke-width="1.2"/>
<circle cx="1026.9" cy="691.9" r="4.4" fill="#3d3d3d" stroke="#0c0c0c" stroke-width="1.2"/>
<circle cx="1088.3" cy="761" r="4.4" fill="#3d3d3d" stroke="#0c0c0c" stroke-width="1.2"/>
<circle cx="1149.7" cy="773" r="4.4" fill="#3d3d3d" stroke="#0c0c0c" stroke-width="1.2"/>
<circle cx="1211.1" cy="828.6" r="4.4" fill="#3d3d3d" stroke="#0c0c0c" stroke-width="1.2"/>
<path d="M161.4 862.4L167.3 856.5L173.2 862.4L167.3 868.3Z" fill="#3d3d3d" stroke="#0c0c0c" stroke-width="1.2" stroke-linejoin="miter"/>
<path d="M222.8 848.4L228.7 842.5L234.6 848.4L228.7 854.3Z" fill="#3d3d3d" stroke="#0c0c0c" stroke-width="1.2" stroke-linejoin="miter"/>
<path d="M284.2 854.7L290.1 848.8L296 854.7L290.1 860.6Z" fill="#3d3d3d" stroke="#0c0c0c" stroke-width="1.2" stroke-linejoin="miter"/>
<path d="M345.6 871.2L351.5 865.3L357.4 871.2L351.5 877.1Z" fill="#3d3d3d" stroke="#0c0c0c" stroke-width="1.2" stroke-linejoin="miter"/>
<path d="M407 879.4L412.9 873.5L418.8 879.4L412.9 885.3Z" fill="#3d3d3d" stroke="#0c0c0c" stroke-width="1.2" stroke-linejoin="miter"/>
<path d="M468.4 875L474.3 869.1L480.2 875L474.3 880.9Z" fill="#3d3d3d" stroke="#0c0c0c" stroke-width="1.2" stroke-linejoin="miter"/>
<path d="M529.8 881.4L535.7 875.5L541.6 881.4L535.7 887.3Z" fill="#3d3d3d" stroke="#0c0c0c" stroke-width="1.2" stroke-linejoin="miter"/>
<path d="M591.2 870.5L597.1 864.6L603 870.5L597.1 876.4Z" fill="#3d3d3d" stroke="#0c0c0c" stroke-width="1.2" stroke-linejoin="miter"/>
<path d="M652.6 876.1L658.5 870.2L664.4 876.1L658.5 882Z" fill="#3d3d3d" stroke="#0c0c0c" stroke-width="1.2" stroke-linejoin="miter"/>
<path d="M714 925.8L719.9 919.9L725.8 925.8L719.9 931.7Z" fill="#3d3d3d" stroke="#0c0c0c" stroke-width="1.2" stroke-linejoin="miter"/>
<path d="M836.8 1003.8L842.7 997.9L848.6 1003.8L842.7 1009.7Z" fill="#3d3d3d" stroke="#0c0c0c" stroke-width="1.2" stroke-linejoin="miter"/>
<path d="M898.2 1010.7L904.1 1004.8L910 1010.7L904.1 1016.6Z" fill="#3d3d3d" stroke="#0c0c0c" stroke-width="1.2" stroke-linejoin="miter"/>
<path d="M959.6 1010.7L965.5 1004.8L971.4 1010.7L965.5 1016.6Z" fill="#3d3d3d" stroke="#0c0c0c" stroke-width="1.2" stroke-linejoin="miter"/>
<path d="M1021 1027.4L1026.9 1021.5L1032.8 1027.4L1026.9 1033.3Z" fill="#3d3d3d" stroke="#0c0c0c" stroke-width="1.2" stroke-linejoin="miter"/>
<path d="M1082.4 1027.4L1088.3 1021.5L1094.2 1027.4L1088.3 1033.3Z" fill="#3d3d3d" stroke="#0c0c0c" stroke-width="1.2" stroke-linejoin="miter"/>
<path d="M1143.8 997L1149.7 991.1L1155.6 997L1149.7 1002.9Z" fill="#3d3d3d" stroke="#0c0c0c" stroke-width="1.2" stroke-linejoin="miter"/>
<path d="M1205.2 980.7L1211.1 974.8L1217 980.7L1211.1 986.6Z" fill="#3d3d3d" stroke="#0c0c0c" stroke-width="1.2" stroke-linejoin="miter"/>
</g>
<text x="183.9" y="981.1" font-family='"Liberation Sans", sans-serif' font-size="20.5" font-weight="normal" fill="#000" stroke="#000" stroke-width="0.25">13,6</text>
<text x="232.9" y="1044.6" font-family='"Liberation Sans", sans-serif' font-size="20.5" font-weight="normal" fill="#000" stroke="#000" stroke-width="0.25">3,5</text>
<text x="294.9" y="1111.6" font-family='"Liberation Sans", sans-serif' font-size="20.5" font-weight="normal" fill="#000" stroke="#000" stroke-width="0.25">0,6</text>
<text x="417.9" y="1145.6" font-family='"Liberation Sans", sans-serif' font-size="20.5" font-weight="normal" fill="#000" stroke="#000" stroke-width="0.25">0,0</text>
<text x="601.4" y="1089.1" font-family='"Liberation Sans", sans-serif' font-size="20.5" font-weight="normal" fill="#000" stroke="#000" stroke-width="0.25">1,3</text>
<text x="724.5" y="1139.8" font-family='"Liberation Sans", sans-serif' font-size="20.5" font-weight="normal" fill="#000" stroke="#000" stroke-width="0.25">0,1</text>
<text x="908.4" y="1141.1" font-family='"Liberation Sans", sans-serif' font-size="20.5" font-weight="normal" fill="#000" stroke="#000" stroke-width="0.25">0,1</text>
<text x="1032.4" y="1142.6" font-family='"Liberation Sans", sans-serif' font-size="20.5" font-weight="normal" fill="#000" stroke="#000" stroke-width="0.25">0,0</text>
<text x="1094.9" y="1133.7" font-family='"Liberation Sans", sans-serif' font-size="20.5" font-weight="normal" fill="#000" stroke="#000" stroke-width="0.25">0,0</text>
<text x="1134.4" y="1093.1" font-family='"Liberation Sans", sans-serif' font-size="20.5" font-weight="normal" fill="#000" stroke="#000" stroke-width="0.25">0,7</text>
<text x="1174.9" y="1062.6" font-family='"Liberation Sans", sans-serif' font-size="20.5" font-weight="normal" fill="#000" stroke="#000" stroke-width="0.25">2,3</text>
<path d="M136.6 648.4H1242V1157.65" fill="none" stroke="#555" stroke-width="1.25"/>
<path d="M136.6 648.4V1157.65H1242" fill="none" stroke="#1c1c1c" stroke-width="1.7"/>
<line x1="132.3" x2="136.6" y1="1150.59" y2="1150.59" stroke="#1c1c1c" stroke-width="1.4"/>
<line x1="132.3" x2="136.6" y1="1144.21" y2="1144.21" stroke="#1c1c1c" stroke-width="1.4"/>
<line x1="132.3" x2="136.6" y1="1138.38" y2="1138.38" stroke="#1c1c1c" stroke-width="1.4"/>
<line x1="132.3" x2="136.6" y1="1133.02" y2="1133.02" stroke="#1c1c1c" stroke-width="1.4"/>
<line x1="132.3" x2="136.6" y1="1128.06" y2="1128.06" stroke="#1c1c1c" stroke-width="1.4"/>
<line x1="132.3" x2="136.6" y1="1123.44" y2="1123.44" stroke="#1c1c1c" stroke-width="1.4"/>
<line x1="132.3" x2="136.6" y1="1119.12" y2="1119.12" stroke="#1c1c1c" stroke-width="1.4"/>
<line x1="132.3" x2="136.6" y1="1115.06" y2="1115.06" stroke="#1c1c1c" stroke-width="1.4"/>
<line x1="132.3" x2="136.6" y1="1084.08" y2="1084.08" stroke="#1c1c1c" stroke-width="1.4"/>
<line x1="132.3" x2="136.6" y1="1064.81" y2="1064.81" stroke="#1c1c1c" stroke-width="1.4"/>
<line x1="132.3" x2="136.6" y1="1049.87" y2="1049.87" stroke="#1c1c1c" stroke-width="1.4"/>
<line x1="132.3" x2="136.6" y1="1037.66" y2="1037.66" stroke="#1c1c1c" stroke-width="1.4"/>
<line x1="132.3" x2="136.6" y1="1027.34" y2="1027.34" stroke="#1c1c1c" stroke-width="1.4"/>
<line x1="132.3" x2="136.6" y1="1018.39" y2="1018.39" stroke="#1c1c1c" stroke-width="1.4"/>
<line x1="132.3" x2="136.6" y1="1010.51" y2="1010.51" stroke="#1c1c1c" stroke-width="1.4"/>
<line x1="132.3" x2="136.6" y1="1003.45" y2="1003.45" stroke="#1c1c1c" stroke-width="1.4"/>
<line x1="132.3" x2="136.6" y1="953.76" y2="953.76" stroke="#1c1c1c" stroke-width="1.4"/>
<line x1="132.3" x2="136.6" y1="927.68" y2="927.68" stroke="#1c1c1c" stroke-width="1.4"/>
<line x1="132.3" x2="136.6" y1="908.96" y2="908.96" stroke="#1c1c1c" stroke-width="1.4"/>
<line x1="132.3" x2="136.6" y1="894.34" y2="894.34" stroke="#1c1c1c" stroke-width="1.4"/>
<line x1="132.3" x2="136.6" y1="882.35" y2="882.35" stroke="#1c1c1c" stroke-width="1.4"/>
<line x1="132.3" x2="136.6" y1="872.19" y2="872.19" stroke="#1c1c1c" stroke-width="1.4"/>
<line x1="132.3" x2="136.6" y1="863.36" y2="863.36" stroke="#1c1c1c" stroke-width="1.4"/>
<line x1="132.3" x2="136.6" y1="855.57" y2="855.57" stroke="#1c1c1c" stroke-width="1.4"/>
<line x1="132.3" x2="136.6" y1="802.5" y2="802.5" stroke="#1c1c1c" stroke-width="1.4"/>
<line x1="132.3" x2="136.6" y1="775.46" y2="775.46" stroke="#1c1c1c" stroke-width="1.4"/>
<line x1="132.3" x2="136.6" y1="756.25" y2="756.25" stroke="#1c1c1c" stroke-width="1.4"/>
<line x1="132.3" x2="136.6" y1="741.34" y2="741.34" stroke="#1c1c1c" stroke-width="1.4"/>
<line x1="132.3" x2="136.6" y1="729.15" y2="729.15" stroke="#1c1c1c" stroke-width="1.4"/>
<line x1="132.3" x2="136.6" y1="718.84" y2="718.84" stroke="#1c1c1c" stroke-width="1.4"/>
<line x1="132.3" x2="136.6" y1="709.91" y2="709.91" stroke="#1c1c1c" stroke-width="1.4"/>
<line x1="132.3" x2="136.6" y1="702.03" y2="702.03" stroke="#1c1c1c" stroke-width="1.4"/>
<line x1="132.3" x2="136.6" y1="648.4" y2="648.4" stroke="#1c1c1c" stroke-width="1.4"/>
<line x1="128.4" x2="136.6" y1="1157.65" y2="1157.65" stroke="#1c1c1c" stroke-width="1.6"/>
<text x="127.6" y="1169.35" text-anchor="end" font-family='"Liberation Sans", sans-serif' font-size="22.4" fill="#000" stroke="#000" stroke-width="0.25">0</text>
<line x1="128.4" x2="136.6" y1="1111.23" y2="1111.23" stroke="#1c1c1c" stroke-width="1.6"/>
<text x="127.6" y="1122.93" text-anchor="end" font-family='"Liberation Sans", sans-serif' font-size="22.4" fill="#000" stroke="#000" stroke-width="0.25">1</text>
<line x1="128.4" x2="136.6" y1="997.07" y2="997.07" stroke="#1c1c1c" stroke-width="1.6"/>
<text x="127.6" y="1008.77" text-anchor="end" font-family='"Liberation Sans", sans-serif' font-size="22.4" fill="#000" stroke="#000" stroke-width="0.25">10</text>
<line x1="128.4" x2="136.6" y1="848.58" y2="848.58" stroke="#1c1c1c" stroke-width="1.6"/>
<text x="127.6" y="860.28" text-anchor="end" font-family='"Liberation Sans", sans-serif' font-size="22.4" fill="#000" stroke="#000" stroke-width="0.25">100</text>
<line x1="128.4" x2="136.6" y1="694.98" y2="694.98" stroke="#1c1c1c" stroke-width="1.6"/>
<text x="127.6" y="706.68" text-anchor="end" font-family='"Liberation Sans", sans-serif' font-size="22.4" fill="#000" stroke="#000" stroke-width="0.25">1.000</text>
<line x1="167.3" x2="167.3" y1="1157.65" y2="1166.15" stroke="#1c1c1c" stroke-width="1.6"/>
<line x1="228.7" x2="228.7" y1="1157.65" y2="1189.65" stroke="#1c1c1c" stroke-width="1.6"/>
<line x1="290.1" x2="290.1" y1="1157.65" y2="1166.15" stroke="#1c1c1c" stroke-width="1.6"/>
<line x1="351.5" x2="351.5" y1="1157.65" y2="1189.65" stroke="#1c1c1c" stroke-width="1.6"/>
<line x1="412.9" x2="412.9" y1="1157.65" y2="1166.15" stroke="#1c1c1c" stroke-width="1.6"/>
<line x1="474.3" x2="474.3" y1="1157.65" y2="1189.65" stroke="#1c1c1c" stroke-width="1.6"/>
<line x1="535.7" x2="535.7" y1="1157.65" y2="1166.15" stroke="#1c1c1c" stroke-width="1.6"/>
<line x1="597.1" x2="597.1" y1="1157.65" y2="1189.65" stroke="#1c1c1c" stroke-width="1.6"/>
<line x1="658.5" x2="658.5" y1="1157.65" y2="1166.15" stroke="#1c1c1c" stroke-width="1.6"/>
<line x1="719.9" x2="719.9" y1="1157.65" y2="1189.65" stroke="#1c1c1c" stroke-width="1.6"/>
<line x1="781.3" x2="781.3" y1="1157.65" y2="1166.15" stroke="#1c1c1c" stroke-width="1.6"/>
<line x1="842.7" x2="842.7" y1="1157.65" y2="1189.65" stroke="#1c1c1c" stroke-width="1.6"/>
<line x1="904.1" x2="904.1" y1="1157.65" y2="1166.15" stroke="#1c1c1c" stroke-width="1.6"/>
<line x1="965.5" x2="965.5" y1="1157.65" y2="1189.65" stroke="#1c1c1c" stroke-width="1.6"/>
<line x1="1026.9" x2="1026.9" y1="1157.65" y2="1166.15" stroke="#1c1c1c" stroke-width="1.6"/>
<line x1="1088.3" x2="1088.3" y1="1157.65" y2="1189.65" stroke="#1c1c1c" stroke-width="1.6"/>
<line x1="1149.7" x2="1149.7" y1="1157.65" y2="1166.15" stroke="#1c1c1c" stroke-width="1.6"/>
<line x1="1211.1" x2="1211.1" y1="1157.65" y2="1189.65" stroke="#1c1c1c" stroke-width="1.6"/>
<text x="167.3" y="1187.85" text-anchor="middle" font-family='"Liberation Sans", sans-serif' font-size="22.1" fill="#000" stroke="#000" stroke-width="0.25">1d pre</text>
<text x="228.7" y="1211.25" text-anchor="middle" font-family='"Liberation Sans", sans-serif' font-size="22.1" fill="#000" stroke="#000" stroke-width="0.25">Pre OP</text>
<text x="290.1" y="1187.85" text-anchor="middle" font-family='"Liberation Sans", sans-serif' font-size="22.1" fill="#000" stroke="#000" stroke-width="0.25">Anaesthesia</text>
<text x="412.9" y="1187.85" text-anchor="middle" font-family='"Liberation Sans", sans-serif' font-size="22.1" fill="#000" stroke="#000" stroke-width="0.25">OP start</text>
<text x="597.1" y="1211.25" text-anchor="middle" font-family='"Liberation Sans", sans-serif' font-size="22.1" fill="#000" stroke="#000" stroke-width="0.25">Resection</text>
<text x="1026.9" y="1187.85" text-anchor="middle" font-family='"Liberation Sans", sans-serif' font-size="22.1" fill="#000" stroke="#000" stroke-width="0.25">Suture</text>
<text x="1088.3" y="1211.25" text-anchor="middle" font-family='"Liberation Sans", sans-serif' font-size="22.1" fill="#000" stroke="#000" stroke-width="0.25">3h post</text>
<text x="1149.7" y="1187.85" text-anchor="middle" font-family='"Liberation Sans", sans-serif' font-size="22.1" fill="#000" stroke="#000" stroke-width="0.25">24h post</text>
<text x="1211.1" y="1211.25" text-anchor="middle" font-family='"Liberation Sans", sans-serif' font-size="22.1" fill="#000" stroke="#000" stroke-width="0.25">72h post</text>
<rect x="136.6" y="648.4" width="202.8" height="43.7" fill="#fff" stroke="#111" stroke-width="1.5"/>
<text x="148.4" y="685" font-family='"Liberation Sans", sans-serif' font-size="39.4" fill="#000" stroke="#000" stroke-width="0.3">Patient 17</text>
<text x="689.3" y="1253.95" text-anchor="middle" font-family='"Liberation Sans", sans-serif' font-size="29.4" font-weight="bold" fill="#000">Time (20 min intervals or specified)</text>
<text transform="translate(26 903.03) rotate(-90)" text-anchor="middle" font-family='"Liberation Sans", sans-serif' font-size="29.2" font-weight="bold" fill="#000">cfDNA L1PA2 venous (ng/ml) -</text>
<text transform="translate(55.4 903.03) rotate(-90)" text-anchor="middle" font-family='"Liberation Sans", sans-serif' font-size="29.2" font-weight="bold" fill="#000">ctDNA (copies/ml) - DNase AR (%)</text>
<circle cx="1269.4" cy="663.3" r="4.4" fill="#3d3d3d" stroke="#0c0c0c" stroke-width="1.1"/>
<rect x="1265" y="687.1" width="8.8" height="8.8" fill="#3d3d3d" stroke="#0c0c0c" stroke-width="1.1"/>
<path d="M1263.5 719.9L1269.4 714L1275.3 719.9L1269.4 725.8Z" fill="#3d3d3d" stroke="#0c0c0c" stroke-width="1.1"/>
<text x="1285.6" y="674.3" font-family='"Liberation Sans", sans-serif' font-size="21.8" fill="#000" stroke="#000" stroke-width="0.25">cfDNA L1PA2 venous (ng/ml)</text>
<text x="1285.6" y="702.3" font-family='"Liberation Sans", sans-serif' font-size="21.8" fill="#000" stroke="#000" stroke-width="0.25">ctDNA (copies/ml)</text>
<text x="1285.6" y="730.3" font-family='"Liberation Sans", sans-serif' font-size="21.8" fill="#000" stroke="#000" stroke-width="0.25">DNase AR (%)</text>

</g>
<g>
<line x1="136.6" x2="1242" y1="1792.53" y2="1792.53" stroke="#d5d5d5" stroke-width="1.3"/>
<line x1="136.6" x2="1242" y1="1786.14" y2="1786.14" stroke="#d5d5d5" stroke-width="1.3"/>
<line x1="136.6" x2="1242" y1="1780.3" y2="1780.3" stroke="#d5d5d5" stroke-width="1.3"/>
<line x1="136.6" x2="1242" y1="1774.93" y2="1774.93" stroke="#d5d5d5" stroke-width="1.3"/>
<line x1="136.6" x2="1242" y1="1769.96" y2="1769.96" stroke="#d5d5d5" stroke-width="1.3"/>
<line x1="136.6" x2="1242" y1="1765.34" y2="1765.34" stroke="#d5d5d5" stroke-width="1.3"/>
<line x1="136.6" x2="1242" y1="1761.01" y2="1761.01" stroke="#d5d5d5" stroke-width="1.3"/>
<line x1="136.6" x2="1242" y1="1756.94" y2="1756.94" stroke="#d5d5d5" stroke-width="1.3"/>
<line x1="136.6" x2="1242" y1="1725.91" y2="1725.91" stroke="#d5d5d5" stroke-width="1.3"/>
<line x1="136.6" x2="1242" y1="1706.61" y2="1706.61" stroke="#d5d5d5" stroke-width="1.3"/>
<line x1="136.6" x2="1242" y1="1691.64" y2="1691.64" stroke="#d5d5d5" stroke-width="1.3"/>
<line x1="136.6" x2="1242" y1="1679.41" y2="1679.41" stroke="#d5d5d5" stroke-width="1.3"/>
<line x1="136.6" x2="1242" y1="1669.07" y2="1669.07" stroke="#d5d5d5" stroke-width="1.3"/>
<line x1="136.6" x2="1242" y1="1660.12" y2="1660.12" stroke="#d5d5d5" stroke-width="1.3"/>
<line x1="136.6" x2="1242" y1="1652.22" y2="1652.22" stroke="#d5d5d5" stroke-width="1.3"/>
<line x1="136.6" x2="1242" y1="1645.15" y2="1645.15" stroke="#d5d5d5" stroke-width="1.3"/>
<line x1="136.6" x2="1242" y1="1595.38" y2="1595.38" stroke="#d5d5d5" stroke-width="1.3"/>
<line x1="136.6" x2="1242" y1="1569.26" y2="1569.26" stroke="#d5d5d5" stroke-width="1.3"/>
<line x1="136.6" x2="1242" y1="1550.51" y2="1550.51" stroke="#d5d5d5" stroke-width="1.3"/>
<line x1="136.6" x2="1242" y1="1535.87" y2="1535.87" stroke="#d5d5d5" stroke-width="1.3"/>
<line x1="136.6" x2="1242" y1="1523.86" y2="1523.86" stroke="#d5d5d5" stroke-width="1.3"/>
<line x1="136.6" x2="1242" y1="1513.67" y2="1513.67" stroke="#d5d5d5" stroke-width="1.3"/>
<line x1="136.6" x2="1242" y1="1504.83" y2="1504.83" stroke="#d5d5d5" stroke-width="1.3"/>
<line x1="136.6" x2="1242" y1="1497.03" y2="1497.03" stroke="#d5d5d5" stroke-width="1.3"/>
<line x1="136.6" x2="1242" y1="1443.87" y2="1443.87" stroke="#d5d5d5" stroke-width="1.3"/>
<line x1="136.6" x2="1242" y1="1416.79" y2="1416.79" stroke="#d5d5d5" stroke-width="1.3"/>
<line x1="136.6" x2="1242" y1="1397.54" y2="1397.54" stroke="#d5d5d5" stroke-width="1.3"/>
<line x1="136.6" x2="1242" y1="1382.61" y2="1382.61" stroke="#d5d5d5" stroke-width="1.3"/>
<line x1="136.6" x2="1242" y1="1370.4" y2="1370.4" stroke="#d5d5d5" stroke-width="1.3"/>
<line x1="136.6" x2="1242" y1="1360.08" y2="1360.08" stroke="#d5d5d5" stroke-width="1.3"/>
<line x1="136.6" x2="1242" y1="1351.13" y2="1351.13" stroke="#d5d5d5" stroke-width="1.3"/>
<line x1="136.6" x2="1242" y1="1343.24" y2="1343.24" stroke="#d5d5d5" stroke-width="1.3"/>
<line x1="136.6" x2="1242" y1="1753.11" y2="1753.11" stroke="#b4b4b4" stroke-width="1.5"/>
<line x1="136.6" x2="1242" y1="1638.76" y2="1638.76" stroke="#b4b4b4" stroke-width="1.5"/>
<line x1="136.6" x2="1242" y1="1490.03" y2="1490.03" stroke="#b4b4b4" stroke-width="1.5"/>
<line x1="136.6" x2="1242" y1="1336.18" y2="1336.18" stroke="#b4b4b4" stroke-width="1.5"/>
<line x1="162.5" x2="162.5" y1="1289.5" y2="1799.6" stroke="#bebebe" stroke-width="1"/>
<line x1="215.17" x2="215.17" y1="1289.5" y2="1799.6" stroke="#bebebe" stroke-width="1"/>
<line x1="267.84" x2="267.84" y1="1289.5" y2="1799.6" stroke="#bebebe" stroke-width="1"/>
<line x1="320.51" x2="320.51" y1="1289.5" y2="1799.6" stroke="#bebebe" stroke-width="1"/>
<line x1="373.18" x2="373.18" y1="1289.5" y2="1799.6" stroke="#bebebe" stroke-width="1"/>
<line x1="425.85" x2="425.85" y1="1289.5" y2="1799.6" stroke="#bebebe" stroke-width="1"/>
<line x1="478.52" x2="478.52" y1="1289.5" y2="1799.6" stroke="#bebebe" stroke-width="1"/>
<line x1="531.19" x2="531.19" y1="1289.5" y2="1799.6" stroke="#bebebe" stroke-width="1"/>
<line x1="583.86" x2="583.86" y1="1289.5" y2="1799.6" stroke="#bebebe" stroke-width="1"/>
<line x1="636.53" x2="636.53" y1="1289.5" y2="1799.6" stroke="#bebebe" stroke-width="1"/>
<line x1="689.2" x2="689.2" y1="1289.5" y2="1799.6" stroke="#bebebe" stroke-width="1"/>
<line x1="741.87" x2="741.87" y1="1289.5" y2="1799.6" stroke="#bebebe" stroke-width="1"/>
<line x1="794.54" x2="794.54" y1="1289.5" y2="1799.6" stroke="#bebebe" stroke-width="1"/>
<line x1="847.21" x2="847.21" y1="1289.5" y2="1799.6" stroke="#bebebe" stroke-width="1"/>
<line x1="899.88" x2="899.88" y1="1289.5" y2="1799.6" stroke="#bebebe" stroke-width="1"/>
<line x1="952.55" x2="952.55" y1="1289.5" y2="1799.6" stroke="#bebebe" stroke-width="1"/>
<line x1="1005.22" x2="1005.22" y1="1289.5" y2="1799.6" stroke="#bebebe" stroke-width="1"/>
<line x1="1057.89" x2="1057.89" y1="1289.5" y2="1799.6" stroke="#bebebe" stroke-width="1"/>
<line x1="1110.56" x2="1110.56" y1="1289.5" y2="1799.6" stroke="#bebebe" stroke-width="1"/>
<line x1="1163.23" x2="1163.23" y1="1289.5" y2="1799.6" stroke="#bebebe" stroke-width="1"/>
<line x1="1215.9" x2="1215.9" y1="1289.5" y2="1799.6" stroke="#bebebe" stroke-width="1"/>
<rect x="171" y="1349" width="57.7" height="30.4" fill="#fff"/>
<rect x="177.1" y="1676" width="35" height="28" fill="#fff"/>
<rect x="281.4" y="1717.1" width="35" height="28" fill="#fff"/>
<rect x="334.5" y="1698.7" width="35" height="28" fill="#fff"/>
<rect x="492.7" y="1693" width="35" height="28" fill="#fff"/>
<rect x="627.4" y="1417" width="57.8" height="28" fill="#fff"/>
<rect x="678.4" y="1354.7" width="57.8" height="28" fill="#fff"/>
<rect x="743.4" y="1507.1" width="46.4" height="28" fill="#fff"/>
<rect x="956.9" y="1723.8" width="35" height="28" fill="#fff"/>
<rect x="1018.9" y="1635.9" width="35" height="28" fill="#fff"/>
<rect x="1071.4" y="1640.5" width="35" height="28" fill="#fff"/>
<rect x="1124.4" y="1637.2" width="35" height="28" fill="#fff"/>
<rect x="1165.4" y="1480" width="46.4" height="28" fill="#fff"/>
<rect x="373.18" y="1289.5" width="316.02" height="510.1" fill="#000" opacity="0.149"/>
<rect x="689.2" y="1289.5" width="316.02" height="510.1" fill="#000" opacity="0.306"/>
<line x1="136.6" x2="1242" y1="1665.9" y2="1665.9" stroke="#2e2e2e" stroke-width="2.4" stroke-dasharray="21 8.7"/>
<text x="1246.6" y="1673.2" font-family='"Liberation Sans", sans-serif' font-size="22.2" font-weight="bold" fill="#000">LOQ</text>
<line x1="136.6" x2="1242" y1="1774.7" y2="1774.7" stroke="#2e2e2e" stroke-width="2.4" stroke-dasharray="21 8.7"/>
<text x="1246.6" y="1782" font-family='"Liberation Sans", sans-serif' font-size="22.2" font-weight="bold" fill="#000">LOD</text>
<clipPath id="clip1289"><rect x="136.6" y="1289.5" width="1105.4" height="510.1"/></clipPath>
<g clip-path="url(#clip1289)">
<polyline points="162.5,1364.61 215.17,1711.84 320.51,1753.11 373.18,1734.2 531.19,1728.8 689.2,1453.12 741.87,1390.85 794.54,1542.79 1005.22,1746.71 1057.89,1672.01 1110.56,1677.22 1163.23,1674.05 1215.9,1516.77" fill="none" stroke="#1e1e1e" stroke-width="1.6" stroke-dasharray="8.8 6"/>
<polyline points="162.5,1531.6 215.17,1489.7 267.84,1524.7 320.51,1506.7 373.18,1529.8 478.52,1529.8 531.19,1533.8 636.53,1571.9 689.2,1573.5 741.87,1573.5 794.54,1592.5 847.21,1557.5 899.88,1565.2 952.55,1581.1 1005.22,1586.7 1057.89,1534.9 1110.56,1530.8 1163.23,1559.2 1215.9,1495.2" fill="none" stroke="#1e1e1e" stroke-width="2" stroke-dasharray="3 6.6"/>
<polyline points="162.5,1578.5 215.17,1543.5 320.51,1558.7 373.18,1551.6 425.85,1561.3 478.52,1545.3 531.19,1527.7 583.86,1514.8 636.53,1503.1 689.2,1501.6 741.87,1491.9 794.54,1495.2 847.21,1492.2 899.88,1496.8 952.55,1500.8 1005.22,1493.7 1057.89,1479 1110.56,1516.1 1163.23,1467.6 1215.9,1456.9" fill="none" stroke="#1e1e1e" stroke-width="1.8"/>
<rect x="158.1" y="1360.21" width="8.8" height="8.8" fill="#3d3d3d" stroke="#0c0c0c" stroke-width="1.2"/>
<rect x="210.77" y="1707.44" width="8.8" height="8.8" fill="#3d3d3d" stroke="#0c0c0c" stroke-width="1.2"/>
<rect x="316.11" y="1748.71" width="8.8" height="8.8" fill="#3d3d3d" stroke="#0c0c0c" stroke-width="1.2"/>
<rect x="368.78" y="1729.8" width="8.8" height="8.8" fill="#3d3d3d" stroke="#0c0c0c" stroke-width="1.2"/>
<rect x="526.79" y="1724.4" width="8.8" height="8.8" fill="#3d3d3d" stroke="#0c0c0c" stroke-width="1.2"/>
<rect x="684.8" y="1448.72" width="8.8" height="8.8" fill="#3d3d3d" stroke="#0c0c0c" stroke-width="1.2"/>
<rect x="737.47" y="1386.45" width="8.8" height="8.8" fill="#3d3d3d" stroke="#0c0c0c" stroke-width="1.2"/>
<rect x="790.14" y="1538.39" width="8.8" height="8.8" fill="#3d3d3d" stroke="#0c0c0c" stroke-width="1.2"/>
<rect x="1000.82" y="1742.31" width="8.8" height="8.8" fill="#3d3d3d" stroke="#0c0c0c" stroke-width="1.2"/>
<rect x="1053.49" y="1667.61" width="8.8" height="8.8" fill="#3d3d3d" stroke="#0c0c0c" stroke-width="1.2"/>
<rect x="1106.16" y="1672.82" width="8.8" height="8.8" fill="#3d3d3d" stroke="#0c0c0c" stroke-width="1.2"/>
<rect x="1158.83" y="1669.65" width="8.8" height="8.8" fill="#3d3d3d" stroke="#0c0c0c" stroke-width="1.2"/>
<rect x="1211.5" y="1512.37" width="8.8" height="8.8" fill="#3d3d3d" stroke="#0c0c0c" stroke-width="1.2"/>
<circle cx="162.5" cy="1578.5" r="4.4" fill="#3d3d3d" stroke="#0c0c0c" stroke-width="1.2"/>
<circle cx="215.17" cy="1543.5" r="4.4" fill="#3d3d3d" stroke="#0c0c0c" stroke-width="1.2"/>
<circle cx="320.51" cy="1558.7" r="4.4" fill="#3d3d3d" stroke="#0c0c0c" stroke-width="1.2"/>
<circle cx="373.18" cy="1551.6" r="4.4" fill="#3d3d3d" stroke="#0c0c0c" stroke-width="1.2"/>
<circle cx="425.85" cy="1561.3" r="4.4" fill="#3d3d3d" stroke="#0c0c0c" stroke-width="1.2"/>
<circle cx="478.52" cy="1545.3" r="4.4" fill="#3d3d3d" stroke="#0c0c0c" stroke-width="1.2"/>
<circle cx="531.19" cy="1527.7" r="4.4" fill="#3d3d3d" stroke="#0c0c0c" stroke-width="1.2"/>
<circle cx="583.86" cy="1514.8" r="4.4" fill="#3d3d3d" stroke="#0c0c0c" stroke-width="1.2"/>
<circle cx="636.53" cy="1503.1" r="4.4" fill="#3d3d3d" stroke="#0c0c0c" stroke-width="1.2"/>
<circle cx="689.2" cy="1501.6" r="4.4" fill="#3d3d3d" stroke="#0c0c0c" stroke-width="1.2"/>
<circle cx="741.87" cy="1491.9" r="4.4" fill="#3d3d3d" stroke="#0c0c0c" stroke-width="1.2"/>
<circle cx="794.54" cy="1495.2" r="4.4" fill="#3d3d3d" stroke="#0c0c0c" stroke-width="1.2"/>
<circle cx="847.21" cy="1492.2" r="4.4" fill="#3d3d3d" stroke="#0c0c0c" stroke-width="1.2"/>
<circle cx="899.88" cy="1496.8" r="4.4" fill="#3d3d3d" stroke="#0c0c0c" stroke-width="1.2"/>
<circle cx="952.55" cy="1500.8" r="4.4" fill="#3d3d3d" stroke="#0c0c0c" stroke-width="1.2"/>
<circle cx="1005.22" cy="1493.7" r="4.4" fill="#3d3d3d" stroke="#0c0c0c" stroke-width="1.2"/>
<circle cx="1057.89" cy="1479" r="4.4" fill="#3d3d3d" stroke="#0c0c0c" stroke-width="1.2"/>
<circle cx="1110.56" cy="1516.1" r="4.4" fill="#3d3d3d" stroke="#0c0c0c" stroke-width="1.2"/>
<circle cx="1163.23" cy="1467.6" r="4.4" fill="#3d3d3d" stroke="#0c0c0c" stroke-width="1.2"/>
<circle cx="1215.9" cy="1456.9" r="4.4" fill="#3d3d3d" stroke="#0c0c0c" stroke-width="1.2"/>
<path d="M156.6 1531.6L162.5 1525.7L168.4 1531.6L162.5 1537.5Z" fill="#3d3d3d" stroke="#0c0c0c" stroke-width="1.2" stroke-linejoin="miter"/>
<path d="M209.27 1489.7L215.17 1483.8L221.07 1489.7L215.17 1495.6Z" fill="#3d3d3d" stroke="#0c0c0c" stroke-width="1.2" stroke-linejoin="miter"/>
<path d="M261.94 1524.7L267.84 1518.8L273.74 1524.7L267.84 1530.6Z" fill="#3d3d3d" stroke="#0c0c0c" stroke-width="1.2" stroke-linejoin="miter"/>
<path d="M314.61 1506.7L320.51 1500.8L326.41 1506.7L320.51 1512.6Z" fill="#3d3d3d" stroke="#0c0c0c" stroke-width="1.2" stroke-linejoin="miter"/>
<path d="M367.28 1529.8L373.18 1523.9L379.08 1529.8L373.18 1535.7Z" fill="#3d3d3d" stroke="#0c0c0c" stroke-width="1.2" stroke-linejoin="miter"/>
<path d="M472.62 1529.8L478.52 1523.9L484.42 1529.8L478.52 1535.7Z" fill="#3d3d3d" stroke="#0c0c0c" stroke-width="1.2" stroke-linejoin="miter"/>
<path d="M525.29 1533.8L531.19 1527.9L537.09 1533.8L531.19 1539.7Z" fill="#3d3d3d" stroke="#0c0c0c" stroke-width="1.2" stroke-linejoin="miter"/>
<path d="M630.63 1571.9L636.53 1566L642.43 1571.9L636.53 1577.8Z" fill="#3d3d3d" stroke="#0c0c0c" stroke-width="1.2" stroke-linejoin="miter"/>
<path d="M683.3 1573.5L689.2 1567.6L695.1 1573.5L689.2 1579.4Z" fill="#3d3d3d" stroke="#0c0c0c" stroke-width="1.2" stroke-linejoin="miter"/>
<path d="M735.97 1573.5L741.87 1567.6L747.77 1573.5L741.87 1579.4Z" fill="#3d3d3d" stroke="#0c0c0c" stroke-width="1.2" stroke-linejoin="miter"/>
<path d="M788.64 1592.5L794.54 1586.6L800.44 1592.5L794.54 1598.4Z" fill="#3d3d3d" stroke="#0c0c0c" stroke-width="1.2" stroke-linejoin="miter"/>
<path d="M841.31 1557.5L847.21 1551.6L853.11 1557.5L847.21 1563.4Z" fill="#3d3d3d" stroke="#0c0c0c" stroke-width="1.2" stroke-linejoin="miter"/>
<path d="M893.98 1565.2L899.88 1559.3L905.78 1565.2L899.88 1571.1Z" fill="#3d3d3d" stroke="#0c0c0c" stroke-width="1.2" stroke-linejoin="miter"/>
<path d="M946.65 1581.1L952.55 1575.2L958.45 1581.1L952.55 1587Z" fill="#3d3d3d" stroke="#0c0c0c" stroke-width="1.2" stroke-linejoin="miter"/>
<path d="M999.32 1586.7L1005.22 1580.8L1011.12 1586.7L1005.22 1592.6Z" fill="#3d3d3d" stroke="#0c0c0c" stroke-width="1.2" stroke-linejoin="miter"/>
<path d="M1051.99 1534.9L1057.89 1529L1063.79 1534.9L1057.89 1540.8Z" fill="#3d3d3d" stroke="#0c0c0c" stroke-width="1.2" stroke-linejoin="miter"/>
<path d="M1104.66 1530.8L1110.56 1524.9L1116.46 1530.8L1110.56 1536.7Z" fill="#3d3d3d" stroke="#0c0c0c" stroke-width="1.2" stroke-linejoin="miter"/>
<path d="M1157.33 1559.2L1163.23 1553.3L1169.13 1559.2L1163.23 1565.1Z" fill="#3d3d3d" stroke="#0c0c0c" stroke-width="1.2" stroke-linejoin="miter"/>
<path d="M1210 1495.2L1215.9 1489.3L1221.8 1495.2L1215.9 1501.1Z" fill="#3d3d3d" stroke="#0c0c0c" stroke-width="1.2" stroke-linejoin="miter"/>
</g>
<text x="174.7" y="1371.3" font-family='"Liberation Sans", sans-serif' font-size="20.5" font-weight="bold" fill="#000" stroke="#000" stroke-width="0.25">654,2</text>
<text x="179.6" y="1697.5" font-family='"Liberation Sans", sans-serif' font-size="20.5" font-weight="bold" fill="#000" stroke="#000" stroke-width="0.25">2,7</text>
<text x="283.9" y="1738.6" font-family='"Liberation Sans", sans-serif' font-size="20.5" font-weight="bold" fill="#000" stroke="#000" stroke-width="0.25">1,0</text>
<text x="337" y="1720.2" font-family='"Liberation Sans", sans-serif' font-size="20.5" font-weight="bold" fill="#000" stroke="#000" stroke-width="0.25">1,6</text>
<text x="495.2" y="1714.5" font-family='"Liberation Sans", sans-serif' font-size="20.5" font-weight="bold" fill="#000" stroke="#000" stroke-width="0.25">1,9</text>
<text x="629.9" y="1438.5" font-family='"Liberation Sans", sans-serif' font-size="20.5" font-weight="bold" fill="#000" stroke="#000" stroke-width="0.25">174,1</text>
<text x="680.9" y="1376.2" font-family='"Liberation Sans", sans-serif' font-size="20.5" font-weight="bold" fill="#000" stroke="#000" stroke-width="0.25">442,1</text>
<text x="745.9" y="1528.6" font-family='"Liberation Sans", sans-serif' font-size="20.5" font-weight="bold" fill="#000" stroke="#000" stroke-width="0.25">45,0</text>
<text x="959.4" y="1745.3" font-family='"Liberation Sans", sans-serif' font-size="20.5" font-weight="bold" fill="#000" stroke="#000" stroke-width="0.25">1,2</text>
<text x="1021.4" y="1657.4" font-family='"Liberation Sans", sans-serif' font-size="20.5" font-weight="bold" fill="#000" stroke="#000" stroke-width="0.25">5,7</text>
<text x="1073.9" y="1662" font-family='"Liberation Sans", sans-serif' font-size="20.5" font-weight="bold" fill="#000" stroke="#000" stroke-width="0.25">5,2</text>
<text x="1126.9" y="1658.7" font-family='"Liberation Sans", sans-serif' font-size="20.5" font-weight="bold" fill="#000" stroke="#000" stroke-width="0.25">5,5</text>
<text x="1167.9" y="1501.5" font-family='"Liberation Sans", sans-serif' font-size="20.5" font-weight="bold" fill="#000" stroke="#000" stroke-width="0.25">66,8</text>
<path d="M136.6 1289.5H1242V1799.6" fill="none" stroke="#555" stroke-width="1.25"/>
<path d="M136.6 1289.5V1799.6H1242" fill="none" stroke="#1c1c1c" stroke-width="1.7"/>
<line x1="132.3" x2="136.6" y1="1792.53" y2="1792.53" stroke="#1c1c1c" stroke-width="1.4"/>
<line x1="132.3" x2="136.6" y1="1786.14" y2="1786.14" stroke="#1c1c1c" stroke-width="1.4"/>
<line x1="132.3" x2="136.6" y1="1780.3" y2="1780.3" stroke="#1c1c1c" stroke-width="1.4"/>
<line x1="132.3" x2="136.6" y1="1774.93" y2="1774.93" stroke="#1c1c1c" stroke-width="1.4"/>
<line x1="132.3" x2="136.6" y1="1769.96" y2="1769.96" stroke="#1c1c1c" stroke-width="1.4"/>
<line x1="132.3" x2="136.6" y1="1765.34" y2="1765.34" stroke="#1c1c1c" stroke-width="1.4"/>
<line x1="132.3" x2="136.6" y1="1761.01" y2="1761.01" stroke="#1c1c1c" stroke-width="1.4"/>
<line x1="132.3" x2="136.6" y1="1756.94" y2="1756.94" stroke="#1c1c1c" stroke-width="1.4"/>
<line x1="132.3" x2="136.6" y1="1725.91" y2="1725.91" stroke="#1c1c1c" stroke-width="1.4"/>
<line x1="132.3" x2="136.6" y1="1706.61" y2="1706.61" stroke="#1c1c1c" stroke-width="1.4"/>
<line x1="132.3" x2="136.6" y1="1691.64" y2="1691.64" stroke="#1c1c1c" stroke-width="1.4"/>
<line x1="132.3" x2="136.6" y1="1679.41" y2="1679.41" stroke="#1c1c1c" stroke-width="1.4"/>
<line x1="132.3" x2="136.6" y1="1669.07" y2="1669.07" stroke="#1c1c1c" stroke-width="1.4"/>
<line x1="132.3" x2="136.6" y1="1660.12" y2="1660.12" stroke="#1c1c1c" stroke-width="1.4"/>
<line x1="132.3" x2="136.6" y1="1652.22" y2="1652.22" stroke="#1c1c1c" stroke-width="1.4"/>
<line x1="132.3" x2="136.6" y1="1645.15" y2="1645.15" stroke="#1c1c1c" stroke-width="1.4"/>
<line x1="132.3" x2="136.6" y1="1595.38" y2="1595.38" stroke="#1c1c1c" stroke-width="1.4"/>
<line x1="132.3" x2="136.6" y1="1569.26" y2="1569.26" stroke="#1c1c1c" stroke-width="1.4"/>
<line x1="132.3" x2="136.6" y1="1550.51" y2="1550.51" stroke="#1c1c1c" stroke-width="1.4"/>
<line x1="132.3" x2="136.6" y1="1535.87" y2="1535.87" stroke="#1c1c1c" stroke-width="1.4"/>
<line x1="132.3" x2="136.6" y1="1523.86" y2="1523.86" stroke="#1c1c1c" stroke-width="1.4"/>
<line x1="132.3" x2="136.6" y1="1513.67" y2="1513.67" stroke="#1c1c1c" stroke-width="1.4"/>
<line x1="132.3" x2="136.6" y1="1504.83" y2="1504.83" stroke="#1c1c1c" stroke-width="1.4"/>
<line x1="132.3" x2="136.6" y1="1497.03" y2="1497.03" stroke="#1c1c1c" stroke-width="1.4"/>
<line x1="132.3" x2="136.6" y1="1443.87" y2="1443.87" stroke="#1c1c1c" stroke-width="1.4"/>
<line x1="132.3" x2="136.6" y1="1416.79" y2="1416.79" stroke="#1c1c1c" stroke-width="1.4"/>
<line x1="132.3" x2="136.6" y1="1397.54" y2="1397.54" stroke="#1c1c1c" stroke-width="1.4"/>
<line x1="132.3" x2="136.6" y1="1382.61" y2="1382.61" stroke="#1c1c1c" stroke-width="1.4"/>
<line x1="132.3" x2="136.6" y1="1370.4" y2="1370.4" stroke="#1c1c1c" stroke-width="1.4"/>
<line x1="132.3" x2="136.6" y1="1360.08" y2="1360.08" stroke="#1c1c1c" stroke-width="1.4"/>
<line x1="132.3" x2="136.6" y1="1351.13" y2="1351.13" stroke="#1c1c1c" stroke-width="1.4"/>
<line x1="132.3" x2="136.6" y1="1343.24" y2="1343.24" stroke="#1c1c1c" stroke-width="1.4"/>
<line x1="132.3" x2="136.6" y1="1289.5" y2="1289.5" stroke="#1c1c1c" stroke-width="1.4"/>
<line x1="128.4" x2="136.6" y1="1799.6" y2="1799.6" stroke="#1c1c1c" stroke-width="1.6"/>
<text x="127.6" y="1811.3" text-anchor="end" font-family='"Liberation Sans", sans-serif' font-size="22.4" fill="#000" stroke="#000" stroke-width="0.25">0</text>
<line x1="128.4" x2="136.6" y1="1753.11" y2="1753.11" stroke="#1c1c1c" stroke-width="1.6"/>
<text x="127.6" y="1764.81" text-anchor="end" font-family='"Liberation Sans", sans-serif' font-size="22.4" fill="#000" stroke="#000" stroke-width="0.25">1</text>
<line x1="128.4" x2="136.6" y1="1638.76" y2="1638.76" stroke="#1c1c1c" stroke-width="1.6"/>
<text x="127.6" y="1650.46" text-anchor="end" font-family='"Liberation Sans", sans-serif' font-size="22.4" fill="#000" stroke="#000" stroke-width="0.25">10</text>
<line x1="128.4" x2="136.6" y1="1490.03" y2="1490.03" stroke="#1c1c1c" stroke-width="1.6"/>
<text x="127.6" y="1501.73" text-anchor="end" font-family='"Liberation Sans", sans-serif' font-size="22.4" fill="#000" stroke="#000" stroke-width="0.25">100</text>
<line x1="128.4" x2="136.6" y1="1336.18" y2="1336.18" stroke="#1c1c1c" stroke-width="1.6"/>
<text x="127.6" y="1347.88" text-anchor="end" font-family='"Liberation Sans", sans-serif' font-size="22.4" fill="#000" stroke="#000" stroke-width="0.25">1.000</text>
<line x1="162.5" x2="162.5" y1="1799.6" y2="1808.1" stroke="#1c1c1c" stroke-width="1.6"/>
<line x1="215.17" x2="215.17" y1="1799.6" y2="1831.6" stroke="#1c1c1c" stroke-width="1.6"/>
<line x1="267.84" x2="267.84" y1="1799.6" y2="1808.1" stroke="#1c1c1c" stroke-width="1.6"/>
<line x1="320.51" x2="320.51" y1="1799.6" y2="1831.6" stroke="#1c1c1c" stroke-width="1.6"/>
<line x1="373.18" x2="373.18" y1="1799.6" y2="1808.1" stroke="#1c1c1c" stroke-width="1.6"/>
<line x1="425.85" x2="425.85" y1="1799.6" y2="1831.6" stroke="#1c1c1c" stroke-width="1.6"/>
<line x1="478.52" x2="478.52" y1="1799.6" y2="1808.1" stroke="#1c1c1c" stroke-width="1.6"/>
<line x1="531.19" x2="531.19" y1="1799.6" y2="1831.6" stroke="#1c1c1c" stroke-width="1.6"/>
<line x1="583.86" x2="583.86" y1="1799.6" y2="1808.1" stroke="#1c1c1c" stroke-width="1.6"/>
<line x1="636.53" x2="636.53" y1="1799.6" y2="1831.6" stroke="#1c1c1c" stroke-width="1.6"/>
<line x1="689.2" x2="689.2" y1="1799.6" y2="1808.1" stroke="#1c1c1c" stroke-width="1.6"/>
<line x1="741.87" x2="741.87" y1="1799.6" y2="1831.6" stroke="#1c1c1c" stroke-width="1.6"/>
<line x1="794.54" x2="794.54" y1="1799.6" y2="1808.1" stroke="#1c1c1c" stroke-width="1.6"/>
<line x1="847.21" x2="847.21" y1="1799.6" y2="1831.6" stroke="#1c1c1c" stroke-width="1.6"/>
<line x1="899.88" x2="899.88" y1="1799.6" y2="1808.1" stroke="#1c1c1c" stroke-width="1.6"/>
<line x1="952.55" x2="952.55" y1="1799.6" y2="1831.6" stroke="#1c1c1c" stroke-width="1.6"/>
<line x1="1005.22" x2="1005.22" y1="1799.6" y2="1808.1" stroke="#1c1c1c" stroke-width="1.6"/>
<line x1="1057.89" x2="1057.89" y1="1799.6" y2="1831.6" stroke="#1c1c1c" stroke-width="1.6"/>
<line x1="1110.56" x2="1110.56" y1="1799.6" y2="1808.1" stroke="#1c1c1c" stroke-width="1.6"/>
<line x1="1163.23" x2="1163.23" y1="1799.6" y2="1831.6" stroke="#1c1c1c" stroke-width="1.6"/>
<line x1="1215.9" x2="1215.9" y1="1799.6" y2="1808.1" stroke="#1c1c1c" stroke-width="1.6"/>
<text x="162.5" y="1829.8" text-anchor="middle" font-family='"Liberation Sans", sans-serif' font-size="22.1" fill="#000" stroke="#000" stroke-width="0.25">1d pre</text>
<text x="215.17" y="1853.2" text-anchor="middle" font-family='"Liberation Sans", sans-serif' font-size="22.1" fill="#000" stroke="#000" stroke-width="0.25">Pre OP</text>
<text x="267.84" y="1829.8" text-anchor="middle" font-family='"Liberation Sans", sans-serif' font-size="22.1" fill="#000" stroke="#000" stroke-width="0.25">Anaesth.</text>
<text x="373.18" y="1829.8" text-anchor="middle" font-family='"Liberation Sans", sans-serif' font-size="22.1" fill="#000" stroke="#000" stroke-width="0.25">OP start</text>
<text x="689.2" y="1829.8" text-anchor="middle" font-family='"Liberation Sans", sans-serif' font-size="22.1" fill="#000" stroke="#000" stroke-width="0.25">Resection</text>
<text x="1005.22" y="1829.8" text-anchor="middle" font-family='"Liberation Sans", sans-serif' font-size="22.1" fill="#000" stroke="#000" stroke-width="0.25">Suture</text>
<text x="1057.89" y="1853.2" text-anchor="middle" font-family='"Liberation Sans", sans-serif' font-size="22.1" fill="#000" stroke="#000" stroke-width="0.25">3h post</text>
<text x="1110.56" y="1829.8" text-anchor="middle" font-family='"Liberation Sans", sans-serif' font-size="22.1" fill="#000" stroke="#000" stroke-width="0.25">6h post</text>
<text x="1163.23" y="1853.2" text-anchor="middle" font-family='"Liberation Sans", sans-serif' font-size="22.1" fill="#000" stroke="#000" stroke-width="0.25">24h post</text>
<text x="1215.9" y="1829.8" text-anchor="middle" font-family='"Liberation Sans", sans-serif' font-size="22.1" fill="#000" stroke="#000" stroke-width="0.25">72h post</text>
<rect x="136.6" y="1289.5" width="202.8" height="43.7" fill="#fff" stroke="#111" stroke-width="1.5"/>
<text x="148.4" y="1326.1" font-family='"Liberation Sans", sans-serif' font-size="39.4" fill="#000" stroke="#000" stroke-width="0.3">Patient 19</text>
<text x="689.3" y="1895.9" text-anchor="middle" font-family='"Liberation Sans", sans-serif' font-size="29.4" font-weight="bold" fill="#000">Time (20 min intervals or specified)</text>
<text transform="translate(26 1544.55) rotate(-90)" text-anchor="middle" font-family='"Liberation Sans", sans-serif' font-size="29.2" font-weight="bold" fill="#000">cfDNA L1PA2 venous (ng/ml) -</text>
<text transform="translate(55.4 1544.55) rotate(-90)" text-anchor="middle" font-family='"Liberation Sans", sans-serif' font-size="29.2" font-weight="bold" fill="#000">ctDNA (copies/ml) - DNase AR (%)</text>
<circle cx="1269.4" cy="1304.4" r="4.4" fill="#3d3d3d" stroke="#0c0c0c" stroke-width="1.1"/>
<rect x="1265" y="1328.2" width="8.8" height="8.8" fill="#3d3d3d" stroke="#0c0c0c" stroke-width="1.1"/>
<path d="M1263.5 1361L1269.4 1355.1L1275.3 1361L1269.4 1366.9Z" fill="#3d3d3d" stroke="#0c0c0c" stroke-width="1.1"/>
<text x="1285.6" y="1315.4" font-family='"Liberation Sans", sans-serif' font-size="21.8" fill="#000" stroke="#000" stroke-width="0.25">cfDNA L1PA2 venous (ng/ml)</text>
<text x="1285.6" y="1343.4" font-family='"Liberation Sans", sans-serif' font-size="21.8" fill="#000" stroke="#000" stroke-width="0.25">ctDNA (copies/ml)</text>
<text x="1285.6" y="1371.4" font-family='"Liberation Sans", sans-serif' font-size="21.8" fill="#000" stroke="#000" stroke-width="0.25">DNase AR (%)</text>
<rect x="1287.2" y="1382.8" width="1.8" height="1" fill="#cfcfcf"/><rect x="1305.8" y="1382.8" width="1.2" height="1" fill="#cfcfcf"/><rect x="1355.6" y="1382.8" width="1.8" height="1" fill="#cfcfcf"/><rect x="1378.0" y="1382.8" width="1.8" height="1" fill="#cfcfcf"/><rect x="1419.8" y="1382.8" width="1.6" height="1" fill="#cfcfcf"/><rect x="1423.8" y="1382.8" width="1.6" height="1" fill="#cfcfcf"/><rect x="1440.8" y="1382.8" width="1.8" height="1" fill="#cfcfcf"/>
</g>
</svg>
</body>
</html>
